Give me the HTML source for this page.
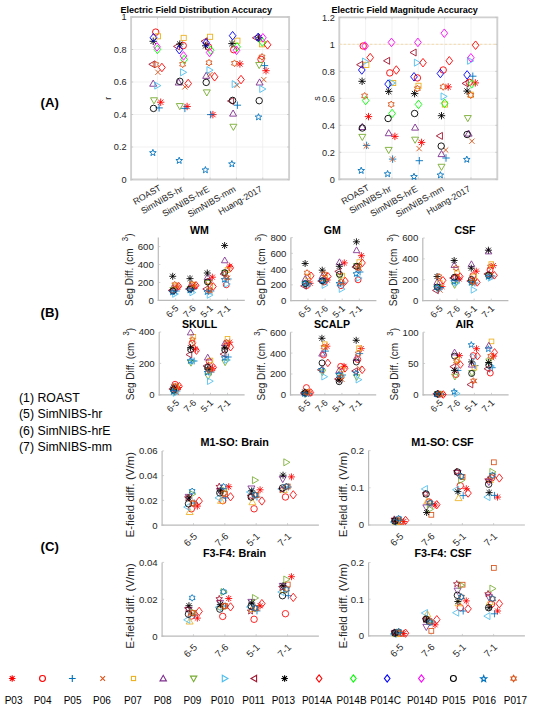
<!DOCTYPE html>
<html><head><meta charset="utf-8"><style>
html,body{margin:0;padding:0;background:#fff;}
svg{display:block;font-family:"Liberation Sans", sans-serif;}
</style></head><body>
<svg width="535" height="710" viewBox="0 0 535 710">
<rect width="535" height="710" fill="#fff"/>
<line x1="157.43" y1="17" x2="157.43" y2="179.5" stroke="#ebebeb" stroke-width="0.7"/>
<line x1="183.77" y1="17" x2="183.77" y2="179.5" stroke="#ebebeb" stroke-width="0.7"/>
<line x1="210.1" y1="17" x2="210.1" y2="179.5" stroke="#ebebeb" stroke-width="0.7"/>
<line x1="236.43" y1="17" x2="236.43" y2="179.5" stroke="#ebebeb" stroke-width="0.7"/>
<line x1="262.77" y1="17" x2="262.77" y2="179.5" stroke="#ebebeb" stroke-width="0.7"/>
<line x1="131.1" y1="179.5" x2="289.1" y2="179.5" stroke="#ebebeb" stroke-width="0.7"/>
<line x1="131.1" y1="147" x2="289.1" y2="147" stroke="#ebebeb" stroke-width="0.7"/>
<line x1="131.1" y1="114.5" x2="289.1" y2="114.5" stroke="#ebebeb" stroke-width="0.7"/>
<line x1="131.1" y1="82" x2="289.1" y2="82" stroke="#ebebeb" stroke-width="0.7"/>
<line x1="131.1" y1="49.5" x2="289.1" y2="49.5" stroke="#ebebeb" stroke-width="0.7"/>
<line x1="131.1" y1="17" x2="289.1" y2="17" stroke="#ebebeb" stroke-width="0.7"/>
<line x1="131.1" y1="17" x2="131.1" y2="180.45" stroke="#d0d0d0" stroke-width="1.9"/>
<line x1="130.15" y1="179.5" x2="289.1" y2="179.5" stroke="#d0d0d0" stroke-width="1.9"/>
<line x1="289.1" y1="17" x2="289.1" y2="180.45" stroke="#d0d0d0" stroke-width="1.9"/>
<line x1="130.15" y1="17" x2="290.05" y2="17" stroke="#d0d0d0" stroke-width="1.9"/>
<line x1="157.43" y1="179.5" x2="157.43" y2="177.5" stroke="#c0c0c0" stroke-width="0.7"/>
<line x1="157.43" y1="17" x2="157.43" y2="19" stroke="#c0c0c0" stroke-width="0.7"/>
<line x1="183.77" y1="179.5" x2="183.77" y2="177.5" stroke="#c0c0c0" stroke-width="0.7"/>
<line x1="183.77" y1="17" x2="183.77" y2="19" stroke="#c0c0c0" stroke-width="0.7"/>
<line x1="210.1" y1="179.5" x2="210.1" y2="177.5" stroke="#c0c0c0" stroke-width="0.7"/>
<line x1="210.1" y1="17" x2="210.1" y2="19" stroke="#c0c0c0" stroke-width="0.7"/>
<line x1="236.43" y1="179.5" x2="236.43" y2="177.5" stroke="#c0c0c0" stroke-width="0.7"/>
<line x1="236.43" y1="17" x2="236.43" y2="19" stroke="#c0c0c0" stroke-width="0.7"/>
<line x1="262.77" y1="179.5" x2="262.77" y2="177.5" stroke="#c0c0c0" stroke-width="0.7"/>
<line x1="262.77" y1="17" x2="262.77" y2="19" stroke="#c0c0c0" stroke-width="0.7"/>
<line x1="131.1" y1="179.5" x2="133.1" y2="179.5" stroke="#c0c0c0" stroke-width="0.7"/>
<line x1="289.1" y1="179.5" x2="287.1" y2="179.5" stroke="#c0c0c0" stroke-width="0.7"/>
<text x="126.6" y="182.81" font-size="9.2" text-anchor="end" font-weight="normal" fill="#262626">0</text>
<line x1="131.1" y1="147" x2="133.1" y2="147" stroke="#c0c0c0" stroke-width="0.7"/>
<line x1="289.1" y1="147" x2="287.1" y2="147" stroke="#c0c0c0" stroke-width="0.7"/>
<text x="126.6" y="150.31" font-size="9.2" text-anchor="end" font-weight="normal" fill="#262626">0.2</text>
<line x1="131.1" y1="114.5" x2="133.1" y2="114.5" stroke="#c0c0c0" stroke-width="0.7"/>
<line x1="289.1" y1="114.5" x2="287.1" y2="114.5" stroke="#c0c0c0" stroke-width="0.7"/>
<text x="126.6" y="117.81" font-size="9.2" text-anchor="end" font-weight="normal" fill="#262626">0.4</text>
<line x1="131.1" y1="82" x2="133.1" y2="82" stroke="#c0c0c0" stroke-width="0.7"/>
<line x1="289.1" y1="82" x2="287.1" y2="82" stroke="#c0c0c0" stroke-width="0.7"/>
<text x="126.6" y="85.31" font-size="9.2" text-anchor="end" font-weight="normal" fill="#262626">0.6</text>
<line x1="131.1" y1="49.5" x2="133.1" y2="49.5" stroke="#c0c0c0" stroke-width="0.7"/>
<line x1="289.1" y1="49.5" x2="287.1" y2="49.5" stroke="#c0c0c0" stroke-width="0.7"/>
<text x="126.6" y="52.81" font-size="9.2" text-anchor="end" font-weight="normal" fill="#262626">0.8</text>
<line x1="131.1" y1="17" x2="133.1" y2="17" stroke="#c0c0c0" stroke-width="0.7"/>
<line x1="289.1" y1="17" x2="287.1" y2="17" stroke="#c0c0c0" stroke-width="0.7"/>
<text x="126.6" y="20.31" font-size="9.2" text-anchor="end" font-weight="normal" fill="#262626">1</text>
<line x1="365.63" y1="17.4" x2="365.63" y2="179.3" stroke="#ebebeb" stroke-width="0.7"/>
<line x1="391.97" y1="17.4" x2="391.97" y2="179.3" stroke="#ebebeb" stroke-width="0.7"/>
<line x1="418.3" y1="17.4" x2="418.3" y2="179.3" stroke="#ebebeb" stroke-width="0.7"/>
<line x1="444.63" y1="17.4" x2="444.63" y2="179.3" stroke="#ebebeb" stroke-width="0.7"/>
<line x1="470.97" y1="17.4" x2="470.97" y2="179.3" stroke="#ebebeb" stroke-width="0.7"/>
<line x1="339.3" y1="179.3" x2="497.3" y2="179.3" stroke="#ebebeb" stroke-width="0.7"/>
<line x1="339.3" y1="152.32" x2="497.3" y2="152.32" stroke="#ebebeb" stroke-width="0.7"/>
<line x1="339.3" y1="125.33" x2="497.3" y2="125.33" stroke="#ebebeb" stroke-width="0.7"/>
<line x1="339.3" y1="98.35" x2="497.3" y2="98.35" stroke="#ebebeb" stroke-width="0.7"/>
<line x1="339.3" y1="71.37" x2="497.3" y2="71.37" stroke="#ebebeb" stroke-width="0.7"/>
<line x1="339.3" y1="44.38" x2="497.3" y2="44.38" stroke="#ebebeb" stroke-width="0.7"/>
<line x1="339.3" y1="17.4" x2="497.3" y2="17.4" stroke="#ebebeb" stroke-width="0.7"/>
<line x1="339.3" y1="17.4" x2="339.3" y2="180.25" stroke="#d0d0d0" stroke-width="1.9"/>
<line x1="338.35" y1="179.3" x2="497.3" y2="179.3" stroke="#d0d0d0" stroke-width="1.9"/>
<line x1="497.3" y1="17.4" x2="497.3" y2="180.25" stroke="#d0d0d0" stroke-width="1.9"/>
<line x1="338.35" y1="17.4" x2="498.25" y2="17.4" stroke="#d0d0d0" stroke-width="1.9"/>
<line x1="365.63" y1="179.3" x2="365.63" y2="177.3" stroke="#c0c0c0" stroke-width="0.7"/>
<line x1="365.63" y1="17.4" x2="365.63" y2="19.4" stroke="#c0c0c0" stroke-width="0.7"/>
<line x1="391.97" y1="179.3" x2="391.97" y2="177.3" stroke="#c0c0c0" stroke-width="0.7"/>
<line x1="391.97" y1="17.4" x2="391.97" y2="19.4" stroke="#c0c0c0" stroke-width="0.7"/>
<line x1="418.3" y1="179.3" x2="418.3" y2="177.3" stroke="#c0c0c0" stroke-width="0.7"/>
<line x1="418.3" y1="17.4" x2="418.3" y2="19.4" stroke="#c0c0c0" stroke-width="0.7"/>
<line x1="444.63" y1="179.3" x2="444.63" y2="177.3" stroke="#c0c0c0" stroke-width="0.7"/>
<line x1="444.63" y1="17.4" x2="444.63" y2="19.4" stroke="#c0c0c0" stroke-width="0.7"/>
<line x1="470.97" y1="179.3" x2="470.97" y2="177.3" stroke="#c0c0c0" stroke-width="0.7"/>
<line x1="470.97" y1="17.4" x2="470.97" y2="19.4" stroke="#c0c0c0" stroke-width="0.7"/>
<line x1="339.3" y1="179.3" x2="341.3" y2="179.3" stroke="#c0c0c0" stroke-width="0.7"/>
<line x1="497.3" y1="179.3" x2="495.3" y2="179.3" stroke="#c0c0c0" stroke-width="0.7"/>
<text x="334.8" y="182.61" font-size="9.2" text-anchor="end" font-weight="normal" fill="#262626">0</text>
<line x1="339.3" y1="152.32" x2="341.3" y2="152.32" stroke="#c0c0c0" stroke-width="0.7"/>
<line x1="497.3" y1="152.32" x2="495.3" y2="152.32" stroke="#c0c0c0" stroke-width="0.7"/>
<text x="334.8" y="155.63" font-size="9.2" text-anchor="end" font-weight="normal" fill="#262626">0.2</text>
<line x1="339.3" y1="125.33" x2="341.3" y2="125.33" stroke="#c0c0c0" stroke-width="0.7"/>
<line x1="497.3" y1="125.33" x2="495.3" y2="125.33" stroke="#c0c0c0" stroke-width="0.7"/>
<text x="334.8" y="128.65" font-size="9.2" text-anchor="end" font-weight="normal" fill="#262626">0.4</text>
<line x1="339.3" y1="98.35" x2="341.3" y2="98.35" stroke="#c0c0c0" stroke-width="0.7"/>
<line x1="497.3" y1="98.35" x2="495.3" y2="98.35" stroke="#c0c0c0" stroke-width="0.7"/>
<text x="334.8" y="101.66" font-size="9.2" text-anchor="end" font-weight="normal" fill="#262626">0.6</text>
<line x1="339.3" y1="71.37" x2="341.3" y2="71.37" stroke="#c0c0c0" stroke-width="0.7"/>
<line x1="497.3" y1="71.37" x2="495.3" y2="71.37" stroke="#c0c0c0" stroke-width="0.7"/>
<text x="334.8" y="74.68" font-size="9.2" text-anchor="end" font-weight="normal" fill="#262626">0.8</text>
<line x1="339.3" y1="44.38" x2="341.3" y2="44.38" stroke="#c0c0c0" stroke-width="0.7"/>
<line x1="497.3" y1="44.38" x2="495.3" y2="44.38" stroke="#c0c0c0" stroke-width="0.7"/>
<text x="334.8" y="47.7" font-size="9.2" text-anchor="end" font-weight="normal" fill="#262626">1</text>
<line x1="339.3" y1="17.4" x2="341.3" y2="17.4" stroke="#c0c0c0" stroke-width="0.7"/>
<line x1="497.3" y1="17.4" x2="495.3" y2="17.4" stroke="#c0c0c0" stroke-width="0.7"/>
<text x="334.8" y="20.71" font-size="9.2" text-anchor="end" font-weight="normal" fill="#262626">1.2</text>
<line x1="339.3" y1="44.38" x2="497.3" y2="44.38" stroke="#f6dfb4" stroke-width="1.1" stroke-dasharray="2.2 2.2"/>
<text x="0" y="0" font-size="8.9" text-anchor="end" font-weight="normal" fill="#262626" transform="translate(161.73,189.7) rotate(-30)">ROAST</text>
<text x="0" y="0" font-size="8.9" text-anchor="end" font-weight="normal" fill="#262626" transform="translate(183.77,190.7) rotate(-30)">SimNIBS-hr</text>
<text x="0" y="0" font-size="8.9" text-anchor="end" font-weight="normal" fill="#262626" transform="translate(210.1,190.7) rotate(-30)">SimNIBS-hrE</text>
<text x="0" y="0" font-size="8.9" text-anchor="end" font-weight="normal" fill="#262626" transform="translate(236.43,190.7) rotate(-30)">SimNIBS-mm</text>
<text x="0" y="0" font-size="8.9" text-anchor="end" font-weight="normal" fill="#262626" transform="translate(262.77,190.7) rotate(-30)">Huang-2017</text>
<text x="0" y="0" font-size="8.9" text-anchor="end" font-weight="normal" fill="#262626" transform="translate(369.93,189.5) rotate(-30)">ROAST</text>
<text x="0" y="0" font-size="8.9" text-anchor="end" font-weight="normal" fill="#262626" transform="translate(391.97,190.5) rotate(-30)">SimNIBS-hr</text>
<text x="0" y="0" font-size="8.9" text-anchor="end" font-weight="normal" fill="#262626" transform="translate(418.3,190.5) rotate(-30)">SimNIBS-hrE</text>
<text x="0" y="0" font-size="8.9" text-anchor="end" font-weight="normal" fill="#262626" transform="translate(444.63,190.5) rotate(-30)">SimNIBS-mm</text>
<text x="0" y="0" font-size="8.9" text-anchor="end" font-weight="normal" fill="#262626" transform="translate(470.97,190.5) rotate(-30)">Huang-2017</text>
<text x="120.4" y="12.6" font-size="9" text-anchor="start" font-weight="bold" fill="#000">Electric Field Distribution Accuracy</text>
<text x="331.6" y="12.6" font-size="9" text-anchor="start" font-weight="bold" fill="#000">Electric Field Magnitude Accuracy</text>
<text x="0" y="0" font-size="9" text-anchor="middle" font-weight="normal" fill="#262626" transform="translate(111.3,98.3) rotate(-90)">r</text>
<text x="0" y="0" font-size="9" text-anchor="middle" font-weight="normal" fill="#262626" transform="translate(320.3,98.5) rotate(-90)">s</text>
<line x1="158.3" y1="237.6" x2="158.3" y2="301" stroke="#bababa" stroke-width="1.2"/>
<line x1="157.7" y1="300.4" x2="244.8" y2="300.4" stroke="#bababa" stroke-width="1.2"/>
<line x1="175.6" y1="300.4" x2="175.6" y2="298.4" stroke="#c0c0c0" stroke-width="0.7"/>
<line x1="192.9" y1="300.4" x2="192.9" y2="298.4" stroke="#c0c0c0" stroke-width="0.7"/>
<line x1="210.2" y1="300.4" x2="210.2" y2="298.4" stroke="#c0c0c0" stroke-width="0.7"/>
<line x1="227.5" y1="300.4" x2="227.5" y2="298.4" stroke="#c0c0c0" stroke-width="0.7"/>
<line x1="158.3" y1="300.4" x2="160.3" y2="300.4" stroke="#c0c0c0" stroke-width="0.7"/>
<text x="153.8" y="303.86" font-size="9.6" text-anchor="end" font-weight="normal" fill="#262626">0</text>
<line x1="158.3" y1="282.46" x2="160.3" y2="282.46" stroke="#c0c0c0" stroke-width="0.7"/>
<text x="153.8" y="285.91" font-size="9.6" text-anchor="end" font-weight="normal" fill="#262626">200</text>
<line x1="158.3" y1="264.51" x2="160.3" y2="264.51" stroke="#c0c0c0" stroke-width="0.7"/>
<text x="153.8" y="267.97" font-size="9.6" text-anchor="end" font-weight="normal" fill="#262626">400</text>
<line x1="158.3" y1="246.57" x2="160.3" y2="246.57" stroke="#c0c0c0" stroke-width="0.7"/>
<text x="153.8" y="250.03" font-size="9.6" text-anchor="end" font-weight="normal" fill="#262626">600</text>
<text x="0" y="0" font-size="9.2" text-anchor="end" font-weight="normal" fill="#262626" transform="translate(179.1,308.9) rotate(-45)">6-5</text>
<text x="0" y="0" font-size="9.2" text-anchor="end" font-weight="normal" fill="#262626" transform="translate(196.4,308.9) rotate(-45)">7-6</text>
<text x="0" y="0" font-size="9.2" text-anchor="end" font-weight="normal" fill="#262626" transform="translate(213.7,308.9) rotate(-45)">5-1</text>
<text x="0" y="0" font-size="9.2" text-anchor="end" font-weight="normal" fill="#262626" transform="translate(231,308.9) rotate(-45)">7-1</text>
<text x="199.4" y="233.9" font-size="10.6" text-anchor="middle" font-weight="bold" fill="#000">WM</text>
<text transform="translate(132.7,269.7) rotate(-90) scale(0.87,1)" font-size="11.5" text-anchor="middle" fill="#262626">Seg Diff. (cm<tspan font-size="9" dx="8.2" dy="-4.6">3</tspan><tspan dy="4.6">)</tspan></text>
<line x1="290.9" y1="237.6" x2="290.9" y2="301.2" stroke="#bababa" stroke-width="1.2"/>
<line x1="290.3" y1="300.6" x2="376.4" y2="300.6" stroke="#bababa" stroke-width="1.2"/>
<line x1="308" y1="300.6" x2="308" y2="298.6" stroke="#c0c0c0" stroke-width="0.7"/>
<line x1="325.1" y1="300.6" x2="325.1" y2="298.6" stroke="#c0c0c0" stroke-width="0.7"/>
<line x1="342.2" y1="300.6" x2="342.2" y2="298.6" stroke="#c0c0c0" stroke-width="0.7"/>
<line x1="359.3" y1="300.6" x2="359.3" y2="298.6" stroke="#c0c0c0" stroke-width="0.7"/>
<line x1="290.9" y1="300.6" x2="292.9" y2="300.6" stroke="#c0c0c0" stroke-width="0.7"/>
<text x="286.4" y="304.06" font-size="9.6" text-anchor="end" font-weight="normal" fill="#262626">0</text>
<line x1="290.9" y1="284.85" x2="292.9" y2="284.85" stroke="#c0c0c0" stroke-width="0.7"/>
<text x="286.4" y="288.31" font-size="9.6" text-anchor="end" font-weight="normal" fill="#262626">200</text>
<line x1="290.9" y1="269.1" x2="292.9" y2="269.1" stroke="#c0c0c0" stroke-width="0.7"/>
<text x="286.4" y="272.56" font-size="9.6" text-anchor="end" font-weight="normal" fill="#262626">400</text>
<line x1="290.9" y1="253.35" x2="292.9" y2="253.35" stroke="#c0c0c0" stroke-width="0.7"/>
<text x="286.4" y="256.81" font-size="9.6" text-anchor="end" font-weight="normal" fill="#262626">600</text>
<line x1="290.9" y1="237.6" x2="292.9" y2="237.6" stroke="#c0c0c0" stroke-width="0.7"/>
<text x="286.4" y="241.06" font-size="9.6" text-anchor="end" font-weight="normal" fill="#262626">800</text>
<text x="0" y="0" font-size="9.2" text-anchor="end" font-weight="normal" fill="#262626" transform="translate(311.5,309.1) rotate(-45)">6-5</text>
<text x="0" y="0" font-size="9.2" text-anchor="end" font-weight="normal" fill="#262626" transform="translate(328.6,309.1) rotate(-45)">7-6</text>
<text x="0" y="0" font-size="9.2" text-anchor="end" font-weight="normal" fill="#262626" transform="translate(345.7,309.1) rotate(-45)">5-1</text>
<text x="0" y="0" font-size="9.2" text-anchor="end" font-weight="normal" fill="#262626" transform="translate(362.8,309.1) rotate(-45)">7-1</text>
<text x="332.2" y="233.8" font-size="10.6" text-anchor="middle" font-weight="bold" fill="#000">GM</text>
<text transform="translate(265.3,269.8) rotate(-90) scale(0.87,1)" font-size="11.5" text-anchor="middle" fill="#262626">Seg Diff. (cm<tspan font-size="9" dx="8.2" dy="-4.6">3</tspan><tspan dy="4.6">)</tspan></text>
<line x1="422.8" y1="238" x2="422.8" y2="301.2" stroke="#bababa" stroke-width="1.2"/>
<line x1="422.2" y1="300.6" x2="508.4" y2="300.6" stroke="#bababa" stroke-width="1.2"/>
<line x1="439.92" y1="300.6" x2="439.92" y2="298.6" stroke="#c0c0c0" stroke-width="0.7"/>
<line x1="457.04" y1="300.6" x2="457.04" y2="298.6" stroke="#c0c0c0" stroke-width="0.7"/>
<line x1="474.16" y1="300.6" x2="474.16" y2="298.6" stroke="#c0c0c0" stroke-width="0.7"/>
<line x1="491.28" y1="300.6" x2="491.28" y2="298.6" stroke="#c0c0c0" stroke-width="0.7"/>
<line x1="422.8" y1="300.6" x2="424.8" y2="300.6" stroke="#c0c0c0" stroke-width="0.7"/>
<text x="418.3" y="304.06" font-size="9.6" text-anchor="end" font-weight="normal" fill="#262626">0</text>
<line x1="422.8" y1="279.73" x2="424.8" y2="279.73" stroke="#c0c0c0" stroke-width="0.7"/>
<text x="418.3" y="283.19" font-size="9.6" text-anchor="end" font-weight="normal" fill="#262626">200</text>
<line x1="422.8" y1="258.87" x2="424.8" y2="258.87" stroke="#c0c0c0" stroke-width="0.7"/>
<text x="418.3" y="262.32" font-size="9.6" text-anchor="end" font-weight="normal" fill="#262626">400</text>
<line x1="422.8" y1="238" x2="424.8" y2="238" stroke="#c0c0c0" stroke-width="0.7"/>
<text x="418.3" y="241.46" font-size="9.6" text-anchor="end" font-weight="normal" fill="#262626">600</text>
<text x="0" y="0" font-size="9.2" text-anchor="end" font-weight="normal" fill="#262626" transform="translate(443.42,309.1) rotate(-45)">6-5</text>
<text x="0" y="0" font-size="9.2" text-anchor="end" font-weight="normal" fill="#262626" transform="translate(460.54,309.1) rotate(-45)">7-6</text>
<text x="0" y="0" font-size="9.2" text-anchor="end" font-weight="normal" fill="#262626" transform="translate(477.66,309.1) rotate(-45)">5-1</text>
<text x="0" y="0" font-size="9.2" text-anchor="end" font-weight="normal" fill="#262626" transform="translate(494.78,309.1) rotate(-45)">7-1</text>
<text x="465" y="233.8" font-size="10.6" text-anchor="middle" font-weight="bold" fill="#000">CSF</text>
<text transform="translate(397.2,270) rotate(-90) scale(0.87,1)" font-size="11.5" text-anchor="middle" fill="#262626">Seg Diff. (cm<tspan font-size="9" dx="8.2" dy="-4.6">3</tspan><tspan dy="4.6">)</tspan></text>
<line x1="159.2" y1="332" x2="159.2" y2="395.4" stroke="#bababa" stroke-width="1.2"/>
<line x1="158.6" y1="394.8" x2="244.6" y2="394.8" stroke="#bababa" stroke-width="1.2"/>
<line x1="176.28" y1="394.8" x2="176.28" y2="392.8" stroke="#c0c0c0" stroke-width="0.7"/>
<line x1="193.36" y1="394.8" x2="193.36" y2="392.8" stroke="#c0c0c0" stroke-width="0.7"/>
<line x1="210.44" y1="394.8" x2="210.44" y2="392.8" stroke="#c0c0c0" stroke-width="0.7"/>
<line x1="227.52" y1="394.8" x2="227.52" y2="392.8" stroke="#c0c0c0" stroke-width="0.7"/>
<line x1="159.2" y1="394.8" x2="161.2" y2="394.8" stroke="#c0c0c0" stroke-width="0.7"/>
<text x="154.7" y="398.26" font-size="9.6" text-anchor="end" font-weight="normal" fill="#262626">0</text>
<line x1="159.2" y1="363.4" x2="161.2" y2="363.4" stroke="#c0c0c0" stroke-width="0.7"/>
<text x="154.7" y="366.86" font-size="9.6" text-anchor="end" font-weight="normal" fill="#262626">200</text>
<line x1="159.2" y1="332" x2="161.2" y2="332" stroke="#c0c0c0" stroke-width="0.7"/>
<text x="154.7" y="335.46" font-size="9.6" text-anchor="end" font-weight="normal" fill="#262626">400</text>
<text x="0" y="0" font-size="9.2" text-anchor="end" font-weight="normal" fill="#262626" transform="translate(179.78,403.3) rotate(-45)">6-5</text>
<text x="0" y="0" font-size="9.2" text-anchor="end" font-weight="normal" fill="#262626" transform="translate(196.86,403.3) rotate(-45)">7-6</text>
<text x="0" y="0" font-size="9.2" text-anchor="end" font-weight="normal" fill="#262626" transform="translate(213.94,403.3) rotate(-45)">5-1</text>
<text x="0" y="0" font-size="9.2" text-anchor="end" font-weight="normal" fill="#262626" transform="translate(231.02,403.3) rotate(-45)">7-1</text>
<text x="199.55" y="327.5" font-size="10.6" text-anchor="middle" font-weight="bold" fill="#000">SKULL</text>
<text transform="translate(133.6,364.1) rotate(-90) scale(0.87,1)" font-size="11.5" text-anchor="middle" fill="#262626">Seg Diff. (cm<tspan font-size="9" dx="8.2" dy="-4.6">3</tspan><tspan dy="4.6">)</tspan></text>
<line x1="290.5" y1="332.2" x2="290.5" y2="395.5" stroke="#bababa" stroke-width="1.2"/>
<line x1="289.9" y1="394.9" x2="376.2" y2="394.9" stroke="#bababa" stroke-width="1.2"/>
<line x1="307.64" y1="394.9" x2="307.64" y2="392.9" stroke="#c0c0c0" stroke-width="0.7"/>
<line x1="324.78" y1="394.9" x2="324.78" y2="392.9" stroke="#c0c0c0" stroke-width="0.7"/>
<line x1="341.92" y1="394.9" x2="341.92" y2="392.9" stroke="#c0c0c0" stroke-width="0.7"/>
<line x1="359.06" y1="394.9" x2="359.06" y2="392.9" stroke="#c0c0c0" stroke-width="0.7"/>
<line x1="290.5" y1="394.9" x2="292.5" y2="394.9" stroke="#c0c0c0" stroke-width="0.7"/>
<text x="286" y="398.36" font-size="9.6" text-anchor="end" font-weight="normal" fill="#262626">0</text>
<line x1="290.5" y1="374" x2="292.5" y2="374" stroke="#c0c0c0" stroke-width="0.7"/>
<text x="286" y="377.46" font-size="9.6" text-anchor="end" font-weight="normal" fill="#262626">200</text>
<line x1="290.5" y1="353.1" x2="292.5" y2="353.1" stroke="#c0c0c0" stroke-width="0.7"/>
<text x="286" y="356.56" font-size="9.6" text-anchor="end" font-weight="normal" fill="#262626">400</text>
<line x1="290.5" y1="332.2" x2="292.5" y2="332.2" stroke="#c0c0c0" stroke-width="0.7"/>
<text x="286" y="335.66" font-size="9.6" text-anchor="end" font-weight="normal" fill="#262626">600</text>
<text x="0" y="0" font-size="9.2" text-anchor="end" font-weight="normal" fill="#262626" transform="translate(311.14,403.4) rotate(-45)">6-5</text>
<text x="0" y="0" font-size="9.2" text-anchor="end" font-weight="normal" fill="#262626" transform="translate(328.28,403.4) rotate(-45)">7-6</text>
<text x="0" y="0" font-size="9.2" text-anchor="end" font-weight="normal" fill="#262626" transform="translate(345.42,403.4) rotate(-45)">5-1</text>
<text x="0" y="0" font-size="9.2" text-anchor="end" font-weight="normal" fill="#262626" transform="translate(362.56,403.4) rotate(-45)">7-1</text>
<text x="332" y="327.6" font-size="10.6" text-anchor="middle" font-weight="bold" fill="#000">SCALP</text>
<text transform="translate(264.9,364.25) rotate(-90) scale(0.87,1)" font-size="11.5" text-anchor="middle" fill="#262626">Seg Diff. (cm<tspan font-size="9" dx="8.2" dy="-4.6">3</tspan><tspan dy="4.6">)</tspan></text>
<line x1="423.1" y1="332.2" x2="423.1" y2="395.4" stroke="#bababa" stroke-width="1.2"/>
<line x1="422.5" y1="394.8" x2="508.6" y2="394.8" stroke="#bababa" stroke-width="1.2"/>
<line x1="440.2" y1="394.8" x2="440.2" y2="392.8" stroke="#c0c0c0" stroke-width="0.7"/>
<line x1="457.3" y1="394.8" x2="457.3" y2="392.8" stroke="#c0c0c0" stroke-width="0.7"/>
<line x1="474.4" y1="394.8" x2="474.4" y2="392.8" stroke="#c0c0c0" stroke-width="0.7"/>
<line x1="491.5" y1="394.8" x2="491.5" y2="392.8" stroke="#c0c0c0" stroke-width="0.7"/>
<line x1="423.1" y1="394.8" x2="425.1" y2="394.8" stroke="#c0c0c0" stroke-width="0.7"/>
<text x="418.6" y="398.26" font-size="9.6" text-anchor="end" font-weight="normal" fill="#262626">0</text>
<line x1="423.1" y1="363.5" x2="425.1" y2="363.5" stroke="#c0c0c0" stroke-width="0.7"/>
<text x="418.6" y="366.96" font-size="9.6" text-anchor="end" font-weight="normal" fill="#262626">50</text>
<line x1="423.1" y1="332.2" x2="425.1" y2="332.2" stroke="#c0c0c0" stroke-width="0.7"/>
<text x="418.6" y="335.66" font-size="9.6" text-anchor="end" font-weight="normal" fill="#262626">100</text>
<text x="0" y="0" font-size="9.2" text-anchor="end" font-weight="normal" fill="#262626" transform="translate(443.7,403.3) rotate(-45)">6-5</text>
<text x="0" y="0" font-size="9.2" text-anchor="end" font-weight="normal" fill="#262626" transform="translate(460.8,403.3) rotate(-45)">7-6</text>
<text x="0" y="0" font-size="9.2" text-anchor="end" font-weight="normal" fill="#262626" transform="translate(477.9,403.3) rotate(-45)">5-1</text>
<text x="0" y="0" font-size="9.2" text-anchor="end" font-weight="normal" fill="#262626" transform="translate(495,403.3) rotate(-45)">7-1</text>
<text x="464.6" y="327.6" font-size="10.6" text-anchor="middle" font-weight="bold" fill="#000">AIR</text>
<text transform="translate(397.5,364.2) rotate(-90) scale(0.87,1)" font-size="11.5" text-anchor="middle" fill="#262626">Seg Diff. (cm<tspan font-size="9" dx="8.2" dy="-4.6">3</tspan><tspan dy="4.6">)</tspan></text>
<line x1="162.1" y1="450.9" x2="162.1" y2="525.7" stroke="#bababa" stroke-width="1.2"/>
<line x1="161.5" y1="525.1" x2="318.9" y2="525.1" stroke="#bababa" stroke-width="1.2"/>
<line x1="193.46" y1="525.1" x2="193.46" y2="523.1" stroke="#c0c0c0" stroke-width="0.7"/>
<line x1="224.82" y1="525.1" x2="224.82" y2="523.1" stroke="#c0c0c0" stroke-width="0.7"/>
<line x1="256.18" y1="525.1" x2="256.18" y2="523.1" stroke="#c0c0c0" stroke-width="0.7"/>
<line x1="287.54" y1="525.1" x2="287.54" y2="523.1" stroke="#c0c0c0" stroke-width="0.7"/>
<line x1="162.1" y1="525.1" x2="164.1" y2="525.1" stroke="#c0c0c0" stroke-width="0.7"/>
<text x="157.6" y="528.56" font-size="9.6" text-anchor="end" font-weight="normal" fill="#262626">0</text>
<line x1="162.1" y1="500.37" x2="164.1" y2="500.37" stroke="#c0c0c0" stroke-width="0.7"/>
<text x="157.6" y="503.82" font-size="9.6" text-anchor="end" font-weight="normal" fill="#262626">0.02</text>
<line x1="162.1" y1="475.63" x2="164.1" y2="475.63" stroke="#c0c0c0" stroke-width="0.7"/>
<text x="157.6" y="479.09" font-size="9.6" text-anchor="end" font-weight="normal" fill="#262626">0.04</text>
<line x1="162.1" y1="450.9" x2="164.1" y2="450.9" stroke="#c0c0c0" stroke-width="0.7"/>
<text x="157.6" y="454.36" font-size="9.6" text-anchor="end" font-weight="normal" fill="#262626">0.06</text>
<text x="0" y="0" font-size="9.8" text-anchor="end" font-weight="normal" fill="#262626" transform="translate(197.76,536.9) rotate(-45)">6-5</text>
<text x="0" y="0" font-size="9.8" text-anchor="end" font-weight="normal" fill="#262626" transform="translate(229.12,536.9) rotate(-45)">7-6</text>
<text x="0" y="0" font-size="9.8" text-anchor="end" font-weight="normal" fill="#262626" transform="translate(260.48,536.9) rotate(-45)">5-1</text>
<text x="0" y="0" font-size="9.8" text-anchor="end" font-weight="normal" fill="#262626" transform="translate(291.84,536.9) rotate(-45)">7-1</text>
<text x="234.6" y="446.2" font-size="10.8" text-anchor="middle" font-weight="bold" fill="#000">M1-SO: Brain</text>
<text x="0" y="0" font-size="11.5" text-anchor="middle" font-weight="normal" fill="#262626" transform="translate(134.1,494.7) rotate(-90)">E-field diff. (V/m)</text>
<line x1="368.6" y1="450.6" x2="368.6" y2="525.6" stroke="#bababa" stroke-width="1.2"/>
<line x1="368" y1="525" x2="524.9" y2="525" stroke="#bababa" stroke-width="1.2"/>
<line x1="399.86" y1="525" x2="399.86" y2="523" stroke="#c0c0c0" stroke-width="0.7"/>
<line x1="431.12" y1="525" x2="431.12" y2="523" stroke="#c0c0c0" stroke-width="0.7"/>
<line x1="462.38" y1="525" x2="462.38" y2="523" stroke="#c0c0c0" stroke-width="0.7"/>
<line x1="493.64" y1="525" x2="493.64" y2="523" stroke="#c0c0c0" stroke-width="0.7"/>
<line x1="368.6" y1="525" x2="370.6" y2="525" stroke="#c0c0c0" stroke-width="0.7"/>
<text x="364.1" y="528.46" font-size="9.6" text-anchor="end" font-weight="normal" fill="#262626">0</text>
<line x1="368.6" y1="487.8" x2="370.6" y2="487.8" stroke="#c0c0c0" stroke-width="0.7"/>
<text x="364.1" y="491.26" font-size="9.6" text-anchor="end" font-weight="normal" fill="#262626">0.1</text>
<line x1="368.6" y1="450.6" x2="370.6" y2="450.6" stroke="#c0c0c0" stroke-width="0.7"/>
<text x="364.1" y="454.06" font-size="9.6" text-anchor="end" font-weight="normal" fill="#262626">0.2</text>
<text x="0" y="0" font-size="9.8" text-anchor="end" font-weight="normal" fill="#262626" transform="translate(404.16,536.8) rotate(-45)">6-5</text>
<text x="0" y="0" font-size="9.8" text-anchor="end" font-weight="normal" fill="#262626" transform="translate(435.42,536.8) rotate(-45)">7-6</text>
<text x="0" y="0" font-size="9.8" text-anchor="end" font-weight="normal" fill="#262626" transform="translate(466.68,536.8) rotate(-45)">5-1</text>
<text x="0" y="0" font-size="9.8" text-anchor="end" font-weight="normal" fill="#262626" transform="translate(497.94,536.8) rotate(-45)">7-1</text>
<text x="442.5" y="446.3" font-size="10.8" text-anchor="middle" font-weight="bold" fill="#000">M1-SO: CSF</text>
<text x="0" y="0" font-size="11.5" text-anchor="middle" font-weight="normal" fill="#262626" transform="translate(347,494.5) rotate(-90)">E-field diff. (V/m)</text>
<line x1="162.1" y1="562.4" x2="162.1" y2="636.8" stroke="#bababa" stroke-width="1.2"/>
<line x1="161.5" y1="636.2" x2="318.9" y2="636.2" stroke="#bababa" stroke-width="1.2"/>
<line x1="193.46" y1="636.2" x2="193.46" y2="634.2" stroke="#c0c0c0" stroke-width="0.7"/>
<line x1="224.82" y1="636.2" x2="224.82" y2="634.2" stroke="#c0c0c0" stroke-width="0.7"/>
<line x1="256.18" y1="636.2" x2="256.18" y2="634.2" stroke="#c0c0c0" stroke-width="0.7"/>
<line x1="287.54" y1="636.2" x2="287.54" y2="634.2" stroke="#c0c0c0" stroke-width="0.7"/>
<line x1="162.1" y1="636.2" x2="164.1" y2="636.2" stroke="#c0c0c0" stroke-width="0.7"/>
<text x="157.6" y="639.66" font-size="9.6" text-anchor="end" font-weight="normal" fill="#262626">0</text>
<line x1="162.1" y1="599.3" x2="164.1" y2="599.3" stroke="#c0c0c0" stroke-width="0.7"/>
<text x="157.6" y="602.76" font-size="9.6" text-anchor="end" font-weight="normal" fill="#262626">0.02</text>
<line x1="162.1" y1="562.4" x2="164.1" y2="562.4" stroke="#c0c0c0" stroke-width="0.7"/>
<text x="157.6" y="565.86" font-size="9.6" text-anchor="end" font-weight="normal" fill="#262626">0.04</text>
<text x="0" y="0" font-size="9.8" text-anchor="end" font-weight="normal" fill="#262626" transform="translate(197.76,648) rotate(-45)">6-5</text>
<text x="0" y="0" font-size="9.8" text-anchor="end" font-weight="normal" fill="#262626" transform="translate(229.12,648) rotate(-45)">7-6</text>
<text x="0" y="0" font-size="9.8" text-anchor="end" font-weight="normal" fill="#262626" transform="translate(260.48,648) rotate(-45)">5-1</text>
<text x="0" y="0" font-size="9.8" text-anchor="end" font-weight="normal" fill="#262626" transform="translate(291.84,648) rotate(-45)">7-1</text>
<text x="234.5" y="557" font-size="10.8" text-anchor="middle" font-weight="bold" fill="#000">F3-F4: Brain</text>
<text x="0" y="0" font-size="11.5" text-anchor="middle" font-weight="normal" fill="#262626" transform="translate(134.1,606) rotate(-90)">E-field diff. (V/m)</text>
<line x1="368.6" y1="562.5" x2="368.6" y2="636.5" stroke="#bababa" stroke-width="1.2"/>
<line x1="368" y1="635.9" x2="524.9" y2="635.9" stroke="#bababa" stroke-width="1.2"/>
<line x1="399.86" y1="635.9" x2="399.86" y2="633.9" stroke="#c0c0c0" stroke-width="0.7"/>
<line x1="431.12" y1="635.9" x2="431.12" y2="633.9" stroke="#c0c0c0" stroke-width="0.7"/>
<line x1="462.38" y1="635.9" x2="462.38" y2="633.9" stroke="#c0c0c0" stroke-width="0.7"/>
<line x1="493.64" y1="635.9" x2="493.64" y2="633.9" stroke="#c0c0c0" stroke-width="0.7"/>
<line x1="368.6" y1="635.9" x2="370.6" y2="635.9" stroke="#c0c0c0" stroke-width="0.7"/>
<text x="364.1" y="639.36" font-size="9.6" text-anchor="end" font-weight="normal" fill="#262626">0</text>
<line x1="368.6" y1="599.2" x2="370.6" y2="599.2" stroke="#c0c0c0" stroke-width="0.7"/>
<text x="364.1" y="602.66" font-size="9.6" text-anchor="end" font-weight="normal" fill="#262626">0.1</text>
<line x1="368.6" y1="562.5" x2="370.6" y2="562.5" stroke="#c0c0c0" stroke-width="0.7"/>
<text x="364.1" y="565.96" font-size="9.6" text-anchor="end" font-weight="normal" fill="#262626">0.2</text>
<text x="0" y="0" font-size="9.8" text-anchor="end" font-weight="normal" fill="#262626" transform="translate(404.16,647.7) rotate(-45)">6-5</text>
<text x="0" y="0" font-size="9.8" text-anchor="end" font-weight="normal" fill="#262626" transform="translate(435.42,647.7) rotate(-45)">7-6</text>
<text x="0" y="0" font-size="9.8" text-anchor="end" font-weight="normal" fill="#262626" transform="translate(466.68,647.7) rotate(-45)">5-1</text>
<text x="0" y="0" font-size="9.8" text-anchor="end" font-weight="normal" fill="#262626" transform="translate(497.94,647.7) rotate(-45)">7-1</text>
<text x="443" y="557.2" font-size="10.8" text-anchor="middle" font-weight="bold" fill="#000">F3-F4: CSF</text>
<text x="0" y="0" font-size="11.5" text-anchor="middle" font-weight="normal" fill="#262626" transform="translate(347,605.9) rotate(-90)">E-field diff. (V/m)</text>
<text x="40.6" y="106.8" font-size="13.2" text-anchor="start" font-weight="bold" fill="#000">(A)</text>
<text x="40.6" y="316.9" font-size="13.2" text-anchor="start" font-weight="bold" fill="#000">(B)</text>
<text x="40.6" y="551.4" font-size="13.2" text-anchor="start" font-weight="bold" fill="#000">(C)</text>
<text x="19" y="401.7" font-size="12.3" text-anchor="start" font-weight="normal" fill="#000">(1) ROAST</text>
<text x="19" y="418.25" font-size="12.3" text-anchor="start" font-weight="normal" fill="#000">(5) SimNIBS-hr</text>
<text x="19" y="434.8" font-size="12.3" text-anchor="start" font-weight="normal" fill="#000">(6) SimNIBS-hrE</text>
<text x="19" y="451.35" font-size="12.3" text-anchor="start" font-weight="normal" fill="#000">(7) SimNIBS-mm</text>
<text x="13.6" y="704.2" font-size="10" text-anchor="middle" font-weight="normal" fill="#000">P03</text>
<text x="42.6" y="704.2" font-size="10" text-anchor="middle" font-weight="normal" fill="#000">P04</text>
<text x="72.6" y="704.2" font-size="10" text-anchor="middle" font-weight="normal" fill="#000">P05</text>
<text x="101.9" y="704.2" font-size="10" text-anchor="middle" font-weight="normal" fill="#000">P06</text>
<text x="133" y="704.2" font-size="10" text-anchor="middle" font-weight="normal" fill="#000">P07</text>
<text x="162.6" y="704.2" font-size="10" text-anchor="middle" font-weight="normal" fill="#000">P08</text>
<text x="192.5" y="704.2" font-size="10" text-anchor="middle" font-weight="normal" fill="#000">P09</text>
<text x="222.4" y="704.2" font-size="10" text-anchor="middle" font-weight="normal" fill="#000">P010</text>
<text x="253.6" y="704.2" font-size="10" text-anchor="middle" font-weight="normal" fill="#000">P011</text>
<text x="283.4" y="704.2" font-size="10" text-anchor="middle" font-weight="normal" fill="#000">P013</text>
<text x="316.9" y="704.2" font-size="10" text-anchor="middle" font-weight="normal" fill="#000">P014A</text>
<text x="351.6" y="704.2" font-size="10" text-anchor="middle" font-weight="normal" fill="#000">P014B</text>
<text x="385.6" y="704.2" font-size="10" text-anchor="middle" font-weight="normal" fill="#000">P014C</text>
<text x="422.2" y="704.2" font-size="10" text-anchor="middle" font-weight="normal" fill="#000">P014D</text>
<text x="454" y="704.2" font-size="10" text-anchor="middle" font-weight="normal" fill="#000">P015</text>
<text x="484.3" y="704.2" font-size="10" text-anchor="middle" font-weight="normal" fill="#000">P016</text>
<text x="515.5" y="704.2" font-size="10" text-anchor="middle" font-weight="normal" fill="#000">P017</text>
<path d="M157 102.2H164.4M160.7 98.5V105.9M158.04 99.54L163.36 104.86M158.04 104.86L163.36 99.54" fill="none" stroke="#ff0000" stroke-width="0.9"/>
<circle cx="155.7" cy="32.1" r="3.23" fill="none" stroke="#ff0000" stroke-width="0.9"/>
<path d="M155.4 107.9H162.8M159.1 104.2V111.6" fill="none" stroke="#0072BD" stroke-width="0.9"/>
<path d="M155.28 69.67L160.53 74.92M155.28 74.92L160.53 69.67" fill="none" stroke="#D95319" stroke-width="0.9"/>
<rect x="155.34" y="33.74" width="5.12" height="5.12" fill="none" stroke="#EDB120" stroke-width="0.9"/>
<polygon points="153.2,80.1 156.7,86.22 149.7,86.22" fill="none" stroke="#7E2F8E" stroke-width="0.9"/>
<polygon points="154,103.9 157.5,97.78 150.5,97.78" fill="none" stroke="#77AC30" stroke-width="0.9"/>
<polygon points="160.9,85.6 154.78,89.1 154.78,82.1" fill="none" stroke="#4DBEEE" stroke-width="0.9"/>
<polygon points="148.8,64.3 154.93,67.8 154.93,60.8" fill="none" stroke="#A2142F" stroke-width="0.9"/>
<path d="M149.5 41.3H156.9M153.2 37.6V45M150.54 38.64L155.86 43.96M150.54 43.96L155.86 38.64" fill="none" stroke="#000000" stroke-width="0.9"/>
<polygon points="161.9,63.24 165.23,67.5 161.9,71.75 158.57,67.5" fill="none" stroke="#ff0000" stroke-width="0.9"/>
<polygon points="157.4,45.14 160.73,49.4 157.4,53.66 154.07,49.4" fill="none" stroke="#00ff00" stroke-width="0.9"/>
<polygon points="153.5,33.45 156.83,37.7 153.5,41.96 150.17,37.7" fill="none" stroke="#0000ff" stroke-width="0.9"/>
<polygon points="157,42.64 160.33,46.9 157,51.16 153.67,46.9" fill="none" stroke="#ff00ff" stroke-width="0.9"/>
<circle cx="153.5" cy="108.4" r="3.23" fill="none" stroke="#000000" stroke-width="0.9"/>
<polygon points="152.9,149.37 153.77,151.63 156.2,151.76 154.31,153.29 154.94,155.63 152.9,154.32 150.86,155.63 151.49,153.29 149.6,151.76 152.03,151.63" fill="none" stroke="#0072BD" stroke-width="0.9"/>
<polygon points="155.7,61.1 156.72,62.73 158.64,62.8 157.74,64.5 158.64,66.2 156.72,66.27 155.7,67.9 154.68,66.27 152.76,66.2 153.66,64.5 152.76,62.8 154.68,62.73" fill="none" stroke="#D95319" stroke-width="0.9"/>
<path d="M183.4 106.5H190.8M187.1 102.8V110.2M184.44 103.84L189.76 109.16M184.44 109.16L189.76 103.84" fill="none" stroke="#ff0000" stroke-width="0.9"/>
<circle cx="183.2" cy="45.6" r="3.23" fill="none" stroke="#ff0000" stroke-width="0.9"/>
<path d="M181.2 108.4H188.6M184.9 104.7V112.1" fill="none" stroke="#0072BD" stroke-width="0.9"/>
<path d="M182.28 84.28L187.53 89.53M182.28 89.53L187.53 84.28" fill="none" stroke="#D95319" stroke-width="0.9"/>
<rect x="181.14" y="35.34" width="5.12" height="5.12" fill="none" stroke="#EDB120" stroke-width="0.9"/>
<polygon points="178.7,78.9 182.2,85.03 175.2,85.03" fill="none" stroke="#7E2F8E" stroke-width="0.9"/>
<polygon points="179.8,109.7 183.3,103.58 176.3,103.58" fill="none" stroke="#77AC30" stroke-width="0.9"/>
<polygon points="186.7,72.3 180.57,75.8 180.57,68.8" fill="none" stroke="#4DBEEE" stroke-width="0.9"/>
<polygon points="173.5,46.4 179.62,49.9 179.62,42.9" fill="none" stroke="#A2142F" stroke-width="0.9"/>
<path d="M176.1 44.1H183.5M179.8 40.4V47.8M177.14 41.44L182.46 46.76M177.14 46.76L182.46 41.44" fill="none" stroke="#000000" stroke-width="0.9"/>
<polygon points="188.2,79.25 191.53,83.5 188.2,87.75 184.87,83.5" fill="none" stroke="#ff0000" stroke-width="0.9"/>
<polygon points="184.1,55.24 187.43,59.5 184.1,63.76 180.77,59.5" fill="none" stroke="#00ff00" stroke-width="0.9"/>
<polygon points="179.3,45.45 182.63,49.7 179.3,53.96 175.97,49.7" fill="none" stroke="#0000ff" stroke-width="0.9"/>
<polygon points="183.5,51.64 186.83,55.9 183.5,60.16 180.17,55.9" fill="none" stroke="#ff00ff" stroke-width="0.9"/>
<circle cx="179.8" cy="81.3" r="3.23" fill="none" stroke="#000000" stroke-width="0.9"/>
<polygon points="179.2,157.17 180.07,159.43 182.5,159.56 180.61,161.09 181.24,163.43 179.2,162.12 177.16,163.43 177.79,161.09 175.9,159.56 178.33,159.43" fill="none" stroke="#0072BD" stroke-width="0.9"/>
<polygon points="182.6,60.9 183.62,62.53 185.54,62.6 184.64,64.3 185.54,66 183.62,66.07 182.6,67.7 181.58,66.07 179.66,66 180.56,64.3 179.66,62.6 181.58,62.53" fill="none" stroke="#D95319" stroke-width="0.9"/>
<path d="M209.2 114.6H216.6M212.9 110.9V118.3M210.24 111.94L215.56 117.26M210.24 117.26L215.56 111.94" fill="none" stroke="#ff0000" stroke-width="0.9"/>
<circle cx="208.5" cy="47" r="3.23" fill="none" stroke="#ff0000" stroke-width="0.9"/>
<path d="M207 114.6H214.4M210.7 110.9V118.3" fill="none" stroke="#0072BD" stroke-width="0.9"/>
<path d="M207.38 71.97L212.62 77.22M207.38 77.22L212.62 71.97" fill="none" stroke="#D95319" stroke-width="0.9"/>
<rect x="207.54" y="34.24" width="5.12" height="5.12" fill="none" stroke="#EDB120" stroke-width="0.9"/>
<polygon points="206.2,72.2 209.7,78.33 202.7,78.33" fill="none" stroke="#7E2F8E" stroke-width="0.9"/>
<polygon points="206.8,96 210.3,89.88 203.3,89.88" fill="none" stroke="#77AC30" stroke-width="0.9"/>
<polygon points="213.1,70.1 206.97,73.6 206.97,66.6" fill="none" stroke="#4DBEEE" stroke-width="0.9"/>
<polygon points="201,41.3 207.12,44.8 207.12,37.8" fill="none" stroke="#A2142F" stroke-width="0.9"/>
<path d="M202 45.8H209.4M205.7 42.1V49.5M203.04 43.14L208.36 48.46M203.04 48.46L208.36 43.14" fill="none" stroke="#000000" stroke-width="0.9"/>
<polygon points="214.6,72.55 217.93,76.8 214.6,81.05 211.27,76.8" fill="none" stroke="#ff0000" stroke-width="0.9"/>
<polygon points="210.7,46.04 214.03,50.3 210.7,54.55 207.37,50.3" fill="none" stroke="#00ff00" stroke-width="0.9"/>
<polygon points="206.2,38.74 209.53,43 206.2,47.26 202.87,43" fill="none" stroke="#0000ff" stroke-width="0.9"/>
<polygon points="209.6,48.24 212.93,52.5 209.6,56.76 206.27,52.5" fill="none" stroke="#ff00ff" stroke-width="0.9"/>
<circle cx="206.2" cy="82.4" r="3.23" fill="none" stroke="#000000" stroke-width="0.9"/>
<polygon points="205.4,166.56 206.27,168.83 208.7,168.96 206.81,170.49 207.44,172.83 205.4,171.52 203.36,172.83 203.99,170.49 202.1,168.96 204.53,168.83" fill="none" stroke="#0072BD" stroke-width="0.9"/>
<polygon points="209,59.3 210.02,60.93 211.94,61 211.04,62.7 211.94,64.4 210.02,64.47 209,66.1 207.98,64.47 206.06,64.4 206.96,62.7 206.06,61 207.98,60.93" fill="none" stroke="#D95319" stroke-width="0.9"/>
<path d="M236.2 63.9H243.6M239.9 60.2V67.6M237.24 61.24L242.56 66.56M237.24 66.56L242.56 61.24" fill="none" stroke="#ff0000" stroke-width="0.9"/>
<circle cx="233.7" cy="49.7" r="3.23" fill="none" stroke="#ff0000" stroke-width="0.9"/>
<path d="M233.7 105.2H241.1M237.4 101.5V108.9" fill="none" stroke="#0072BD" stroke-width="0.9"/>
<path d="M234.47 82.58L239.72 87.83M234.47 87.83L239.72 82.58" fill="none" stroke="#D95319" stroke-width="0.9"/>
<rect x="234.84" y="38.14" width="5.12" height="5.12" fill="none" stroke="#EDB120" stroke-width="0.9"/>
<polygon points="233.1,110 236.6,116.12 229.6,116.12" fill="none" stroke="#7E2F8E" stroke-width="0.9"/>
<polygon points="233.4,130.4 236.9,124.28 229.9,124.28" fill="none" stroke="#77AC30" stroke-width="0.9"/>
<polygon points="238.3,84.1 232.18,87.6 232.18,80.6" fill="none" stroke="#4DBEEE" stroke-width="0.9"/>
<polygon points="227.5,101 233.62,104.5 233.62,97.5" fill="none" stroke="#A2142F" stroke-width="0.9"/>
<path d="M228.3 43.6H235.7M232 39.9V47.3M229.34 40.94L234.66 46.26M229.34 46.26L234.66 40.94" fill="none" stroke="#000000" stroke-width="0.9"/>
<polygon points="241,75.34 244.33,79.6 241,83.85 237.67,79.6" fill="none" stroke="#ff0000" stroke-width="0.9"/>
<polygon points="237.1,42.64 240.43,46.9 237.1,51.16 233.77,46.9" fill="none" stroke="#00ff00" stroke-width="0.9"/>
<polygon points="232.6,31.45 235.93,35.7 232.6,39.96 229.27,35.7" fill="none" stroke="#0000ff" stroke-width="0.9"/>
<polygon points="236.5,46.04 239.83,50.3 236.5,54.55 233.17,50.3" fill="none" stroke="#ff00ff" stroke-width="0.9"/>
<circle cx="232.6" cy="100.4" r="3.23" fill="none" stroke="#000000" stroke-width="0.9"/>
<polygon points="231.9,160.56 232.77,162.83 235.2,162.96 233.31,164.49 233.94,166.83 231.9,165.52 229.86,166.83 230.49,164.49 228.6,162.96 231.03,162.83" fill="none" stroke="#0072BD" stroke-width="0.9"/>
<polygon points="234.5,59.9 235.52,61.53 237.44,61.6 236.54,63.3 237.44,65 235.52,65.07 234.5,66.7 233.48,65.07 231.56,65 232.46,63.3 231.56,61.6 233.48,61.53" fill="none" stroke="#D95319" stroke-width="0.9"/>
<path d="M262.3 70.7H269.7M266 67V74.4M263.34 68.04L268.66 73.36M263.34 73.36L268.66 68.04" fill="none" stroke="#ff0000" stroke-width="0.9"/>
<circle cx="261" cy="59.3" r="3.23" fill="none" stroke="#ff0000" stroke-width="0.9"/>
<path d="M260.8 65.6H268.2M264.5 61.9V69.3" fill="none" stroke="#0072BD" stroke-width="0.9"/>
<path d="M261.18 76.97L266.43 82.22M261.18 82.22L266.43 76.97" fill="none" stroke="#D95319" stroke-width="0.9"/>
<rect x="259.44" y="41.74" width="5.12" height="5.12" fill="none" stroke="#EDB120" stroke-width="0.9"/>
<polygon points="259.6,78.9 263.1,85.03 256.1,85.03" fill="none" stroke="#7E2F8E" stroke-width="0.9"/>
<polygon points="259.2,68.6 262.7,62.47 255.7,62.47" fill="none" stroke="#77AC30" stroke-width="0.9"/>
<polygon points="265.9,89 259.77,92.5 259.77,85.5" fill="none" stroke="#4DBEEE" stroke-width="0.9"/>
<polygon points="252.4,37.8 258.52,41.3 258.52,34.3" fill="none" stroke="#A2142F" stroke-width="0.9"/>
<path d="M255.5 37.8H262.9M259.2 34.1V41.5M256.54 35.14L261.86 40.46M256.54 40.46L261.86 35.14" fill="none" stroke="#000000" stroke-width="0.9"/>
<polygon points="267.6,40.54 270.93,44.8 267.6,49.05 264.27,44.8" fill="none" stroke="#ff0000" stroke-width="0.9"/>
<polygon points="262.4,37.74 265.73,42 262.4,46.26 259.07,42" fill="none" stroke="#00ff00" stroke-width="0.9"/>
<polygon points="258.2,33.04 261.53,37.3 258.2,41.55 254.87,37.3" fill="none" stroke="#0000ff" stroke-width="0.9"/>
<polygon points="262.9,33.54 266.23,37.8 262.9,42.05 259.57,37.8" fill="none" stroke="#ff00ff" stroke-width="0.9"/>
<circle cx="259.2" cy="100.7" r="3.23" fill="none" stroke="#000000" stroke-width="0.9"/>
<polygon points="258.5,113.66 259.37,115.93 261.8,116.06 259.91,117.59 260.54,119.93 258.5,118.61 256.46,119.93 257.09,117.59 255.2,116.06 257.63,115.93" fill="none" stroke="#0072BD" stroke-width="0.9"/>
<polygon points="262,53.5 263.02,55.13 264.94,55.2 264.04,56.9 264.94,58.6 263.02,58.67 262,60.3 260.98,58.67 259.06,58.6 259.96,56.9 259.06,55.2 260.98,55.13" fill="none" stroke="#D95319" stroke-width="0.9"/>
<path d="M364.8 116.6H372.2M368.5 112.9V120.3M365.84 113.94L371.16 119.26M365.84 119.26L371.16 113.94" fill="none" stroke="#ff0000" stroke-width="0.9"/>
<circle cx="363.2" cy="46" r="3.23" fill="none" stroke="#ff0000" stroke-width="0.9"/>
<path d="M362.9 145.4H370.3M366.6 141.7V149.1" fill="none" stroke="#0072BD" stroke-width="0.9"/>
<path d="M363.68 143.38L368.93 148.62M363.68 148.62L368.93 143.38" fill="none" stroke="#D95319" stroke-width="0.9"/>
<rect x="363.74" y="62.34" width="5.12" height="5.12" fill="none" stroke="#EDB120" stroke-width="0.9"/>
<polygon points="362.3,123.4 365.8,129.53 358.8,129.53" fill="none" stroke="#7E2F8E" stroke-width="0.9"/>
<polygon points="362.3,140.5 365.8,134.38 358.8,134.38" fill="none" stroke="#77AC30" stroke-width="0.9"/>
<polygon points="368.6,61.5 362.48,65 362.48,58" fill="none" stroke="#4DBEEE" stroke-width="0.9"/>
<polygon points="356.6,64.7 362.73,68.2 362.73,61.2" fill="none" stroke="#A2142F" stroke-width="0.9"/>
<path d="M358.4 81.3H365.8M362.1 77.6V85M359.44 78.64L364.76 83.96M359.44 83.96L364.76 78.64" fill="none" stroke="#000000" stroke-width="0.9"/>
<polygon points="370.2,53.34 373.53,57.6 370.2,61.86 366.87,57.6" fill="none" stroke="#ff0000" stroke-width="0.9"/>
<polygon points="365.7,96.25 369.03,100.5 365.7,104.75 362.37,100.5" fill="none" stroke="#00ff00" stroke-width="0.9"/>
<polygon points="361.8,65.75 365.13,70 361.8,74.25 358.47,70" fill="none" stroke="#0000ff" stroke-width="0.9"/>
<polygon points="365.1,41.74 368.43,46 365.1,50.26 361.77,46" fill="none" stroke="#ff00ff" stroke-width="0.9"/>
<circle cx="362.3" cy="128" r="3.23" fill="none" stroke="#000000" stroke-width="0.9"/>
<polygon points="361.2,167.17 362.07,169.43 364.5,169.56 362.61,171.09 363.24,173.43 361.2,172.12 359.16,173.43 359.79,171.09 357.9,169.56 360.33,169.43" fill="none" stroke="#0072BD" stroke-width="0.9"/>
<polygon points="364.6,92.5 365.62,94.13 367.54,94.2 366.64,95.9 367.54,97.6 365.62,97.67 364.6,99.3 363.58,97.67 361.66,97.6 362.56,95.9 361.66,94.2 363.58,94.13" fill="none" stroke="#D95319" stroke-width="0.9"/>
<path d="M391.2 136.4H398.6M394.9 132.7V140.1M392.24 133.74L397.56 139.06M392.24 139.06L397.56 133.74" fill="none" stroke="#ff0000" stroke-width="0.9"/>
<circle cx="389.8" cy="72.9" r="3.23" fill="none" stroke="#ff0000" stroke-width="0.9"/>
<path d="M388.9 159.1H396.3M392.6 155.4V162.8" fill="none" stroke="#0072BD" stroke-width="0.9"/>
<path d="M389.98 156.47L395.23 161.72M389.98 161.72L395.23 156.47" fill="none" stroke="#D95319" stroke-width="0.9"/>
<rect x="390.64" y="80.44" width="5.12" height="5.12" fill="none" stroke="#EDB120" stroke-width="0.9"/>
<polygon points="388.7,129.6 392.2,135.72 385.2,135.72" fill="none" stroke="#7E2F8E" stroke-width="0.9"/>
<polygon points="388.7,153.5 392.2,147.38 385.2,147.38" fill="none" stroke="#77AC30" stroke-width="0.9"/>
<polygon points="395.6,83 389.48,86.5 389.48,79.5" fill="none" stroke="#4DBEEE" stroke-width="0.9"/>
<polygon points="383.5,60.8 389.62,64.3 389.62,57.3" fill="none" stroke="#A2142F" stroke-width="0.9"/>
<path d="M385 91.4H392.4M388.7 87.7V95.1M386.04 88.74L391.36 94.06M386.04 94.06L391.36 88.74" fill="none" stroke="#000000" stroke-width="0.9"/>
<polygon points="396.3,65.75 399.63,70 396.3,74.25 392.97,70" fill="none" stroke="#ff0000" stroke-width="0.9"/>
<polygon points="392.1,109.25 395.43,113.5 392.1,117.75 388.77,113.5" fill="none" stroke="#00ff00" stroke-width="0.9"/>
<polygon points="388.1,79.84 391.43,84.1 388.1,88.35 384.77,84.1" fill="none" stroke="#0000ff" stroke-width="0.9"/>
<polygon points="391.5,38.14 394.83,42.4 391.5,46.66 388.17,42.4" fill="none" stroke="#ff00ff" stroke-width="0.9"/>
<circle cx="388.1" cy="118.5" r="3.23" fill="none" stroke="#000000" stroke-width="0.9"/>
<polygon points="387.6,170.47 388.47,172.73 390.9,172.86 389.01,174.39 389.64,176.73 387.6,175.42 385.56,176.73 386.19,174.39 384.3,172.86 386.73,172.73" fill="none" stroke="#0072BD" stroke-width="0.9"/>
<polygon points="391.2,101 392.22,102.63 394.14,102.7 393.24,104.4 394.14,106.1 392.22,106.17 391.2,107.8 390.18,106.17 388.26,106.1 389.16,104.4 388.26,102.7 390.18,102.63" fill="none" stroke="#D95319" stroke-width="0.9"/>
<path d="M417.9 142.4H425.3M421.6 138.7V146.1M418.94 139.74L424.26 145.06M418.94 145.06L424.26 139.74" fill="none" stroke="#ff0000" stroke-width="0.9"/>
<circle cx="417.4" cy="77.9" r="3.23" fill="none" stroke="#ff0000" stroke-width="0.9"/>
<path d="M415.6 160.7H423M419.3 157V164.4" fill="none" stroke="#0072BD" stroke-width="0.9"/>
<path d="M416.48 145.97L421.73 151.22M416.48 151.22L421.73 145.97" fill="none" stroke="#D95319" stroke-width="0.9"/>
<rect x="415.94" y="83.24" width="5.12" height="5.12" fill="none" stroke="#EDB120" stroke-width="0.9"/>
<polygon points="415.1,124 418.6,130.12 411.6,130.12" fill="none" stroke="#7E2F8E" stroke-width="0.9"/>
<polygon points="415.1,143.3 418.6,137.18 411.6,137.18" fill="none" stroke="#77AC30" stroke-width="0.9"/>
<polygon points="420.5,62.7 414.38,66.2 414.38,59.2" fill="none" stroke="#4DBEEE" stroke-width="0.9"/>
<polygon points="410,52.5 416.12,56 416.12,49" fill="none" stroke="#A2142F" stroke-width="0.9"/>
<path d="M410.9 93.6H418.3M414.6 89.9V97.3M411.94 90.94L417.26 96.26M411.94 96.26L417.26 90.94" fill="none" stroke="#000000" stroke-width="0.9"/>
<polygon points="423,58.45 426.33,62.7 423,66.95 419.67,62.7" fill="none" stroke="#ff0000" stroke-width="0.9"/>
<polygon points="418.5,100.15 421.83,104.4 418.5,108.66 415.17,104.4" fill="none" stroke="#00ff00" stroke-width="0.9"/>
<polygon points="414,72.55 417.33,76.8 414,81.05 410.67,76.8" fill="none" stroke="#0000ff" stroke-width="0.9"/>
<polygon points="417.9,38.14 421.23,42.4 417.9,46.66 414.57,42.4" fill="none" stroke="#ff00ff" stroke-width="0.9"/>
<circle cx="414.6" cy="113.5" r="3.23" fill="none" stroke="#000000" stroke-width="0.9"/>
<polygon points="414,173.27 414.87,175.53 417.3,175.66 415.41,177.19 416.04,179.53 414,178.22 411.96,179.53 412.59,177.19 410.7,175.66 413.13,175.53" fill="none" stroke="#0072BD" stroke-width="0.9"/>
<polygon points="417.4,85.2 418.42,86.83 420.34,86.9 419.44,88.6 420.34,90.3 418.42,90.37 417.4,92 416.38,90.37 414.46,90.3 415.36,88.6 414.46,86.9 416.38,86.83" fill="none" stroke="#D95319" stroke-width="0.9"/>
<path d="M444.5 86.9H451.9M448.2 83.2V90.6M445.54 84.24L450.86 89.56M445.54 89.56L450.86 84.24" fill="none" stroke="#ff0000" stroke-width="0.9"/>
<circle cx="443.2" cy="70" r="3.23" fill="none" stroke="#ff0000" stroke-width="0.9"/>
<path d="M442.3 158H449.7M446 154.3V161.7" fill="none" stroke="#0072BD" stroke-width="0.9"/>
<path d="M443.07 147.38L448.32 152.62M443.07 152.62L448.32 147.38" fill="none" stroke="#D95319" stroke-width="0.9"/>
<rect x="442.34" y="101.94" width="5.12" height="5.12" fill="none" stroke="#EDB120" stroke-width="0.9"/>
<polygon points="441.5,150.5 445,156.62 438,156.62" fill="none" stroke="#7E2F8E" stroke-width="0.9"/>
<polygon points="441.5,170.4 445,164.28 438,164.28" fill="none" stroke="#77AC30" stroke-width="0.9"/>
<polygon points="447.2,96.4 441.07,99.9 441.07,92.9" fill="none" stroke="#4DBEEE" stroke-width="0.9"/>
<polygon points="436.3,135.9 442.43,139.4 442.43,132.4" fill="none" stroke="#A2142F" stroke-width="0.9"/>
<path d="M437.8 115.7H445.2M441.5 112V119.4M438.84 113.04L444.16 118.36M438.84 118.36L444.16 113.04" fill="none" stroke="#000000" stroke-width="0.9"/>
<polygon points="449.3,56.54 452.63,60.8 449.3,65.05 445.97,60.8" fill="none" stroke="#ff0000" stroke-width="0.9"/>
<polygon points="444.6,99.05 447.93,103.3 444.6,107.55 441.27,103.3" fill="none" stroke="#00ff00" stroke-width="0.9"/>
<polygon points="440.4,69.25 443.73,73.5 440.4,77.75 437.07,73.5" fill="none" stroke="#0000ff" stroke-width="0.9"/>
<polygon points="444.3,28.95 447.63,33.2 444.3,37.46 440.97,33.2" fill="none" stroke="#ff00ff" stroke-width="0.9"/>
<circle cx="441.2" cy="146.1" r="3.23" fill="none" stroke="#000000" stroke-width="0.9"/>
<polygon points="440.4,171.67 441.27,173.93 443.7,174.06 441.81,175.59 442.44,177.93 440.4,176.62 438.36,177.93 438.99,175.59 437.1,174.06 439.53,173.93" fill="none" stroke="#0072BD" stroke-width="0.9"/>
<polygon points="443.2,83.5 444.22,85.13 446.14,85.2 445.24,86.9 446.14,88.6 444.22,88.67 443.2,90.3 442.18,88.67 440.26,88.6 441.16,86.9 440.26,85.2 442.18,85.13" fill="none" stroke="#D95319" stroke-width="0.9"/>
<path d="M471.6 82.9H479M475.3 79.2V86.6M472.64 80.24L477.96 85.56M472.64 85.56L477.96 80.24" fill="none" stroke="#ff0000" stroke-width="0.9"/>
<circle cx="469.2" cy="82.3" r="3.23" fill="none" stroke="#ff0000" stroke-width="0.9"/>
<path d="M469.1 76.2H476.5M472.8 72.5V79.9" fill="none" stroke="#0072BD" stroke-width="0.9"/>
<path d="M469.27 138.57L474.52 143.82M469.27 143.82L474.52 138.57" fill="none" stroke="#D95319" stroke-width="0.9"/>
<rect x="468.14" y="92.14" width="5.12" height="5.12" fill="none" stroke="#EDB120" stroke-width="0.9"/>
<polygon points="468.6,130 472.1,136.12 465.1,136.12" fill="none" stroke="#7E2F8E" stroke-width="0.9"/>
<polygon points="467.8,121.7 471.3,115.58 464.3,115.58" fill="none" stroke="#77AC30" stroke-width="0.9"/>
<polygon points="473.7,60.8 467.57,64.3 467.57,57.3" fill="none" stroke="#4DBEEE" stroke-width="0.9"/>
<polygon points="462.1,83.4 468.23,86.9 468.23,79.9" fill="none" stroke="#A2142F" stroke-width="0.9"/>
<path d="M463.4 91.1H470.8M467.1 87.4V94.8M464.44 88.44L469.76 93.76M464.44 93.76L469.76 88.44" fill="none" stroke="#000000" stroke-width="0.9"/>
<polygon points="475.6,40.95 478.93,45.2 475.6,49.46 472.27,45.2" fill="none" stroke="#ff0000" stroke-width="0.9"/>
<polygon points="471.7,79.65 475.03,83.9 471.7,88.16 468.37,83.9" fill="none" stroke="#00ff00" stroke-width="0.9"/>
<polygon points="467.1,70.65 470.43,74.9 467.1,79.16 463.77,74.9" fill="none" stroke="#0000ff" stroke-width="0.9"/>
<polygon points="470.9,53.54 474.23,57.8 470.9,62.05 467.57,57.8" fill="none" stroke="#ff00ff" stroke-width="0.9"/>
<circle cx="467.1" cy="134.5" r="3.23" fill="none" stroke="#000000" stroke-width="0.9"/>
<polygon points="466.8,156.06 467.67,158.33 470.1,158.46 468.21,159.99 468.84,162.33 466.8,161.02 464.76,162.33 465.39,159.99 463.5,158.46 465.93,158.33" fill="none" stroke="#0072BD" stroke-width="0.9"/>
<polygon points="470.7,91.8 471.72,93.43 473.64,93.5 472.74,95.2 473.64,96.9 471.72,96.97 470.7,98.6 469.68,96.97 467.76,96.9 468.66,95.2 467.76,93.5 469.68,93.43" fill="none" stroke="#D95319" stroke-width="0.9"/>
<path d="M8.9 678.5H15.5M12.2 675.2V681.8M9.82 676.12L14.58 680.88M9.82 680.88L14.58 676.12" fill="none" stroke="#ff0000" stroke-width="1.1"/>
<circle cx="42.5" cy="678.5" r="2.94" fill="none" stroke="#ff0000" stroke-width="1.1"/>
<path d="M68.9 678.5H75.7M72.3 675.1V681.9" fill="none" stroke="#0072BD" stroke-width="1.1"/>
<path d="M100.38 676.17L105.03 680.83M100.38 680.83L105.03 676.17" fill="none" stroke="#D95319" stroke-width="1.1"/>
<rect x="131.42" y="676.42" width="4.16" height="4.16" fill="none" stroke="#EDB120" stroke-width="1.1"/>
<polygon points="163.2,675.3 166.4,680.9 160,680.9" fill="none" stroke="#7E2F8E" stroke-width="1.1"/>
<polygon points="193.6,681.7 196.8,676.1 190.4,676.1" fill="none" stroke="#77AC30" stroke-width="1.1"/>
<polygon points="227.9,678.5 222.3,681.7 222.3,675.3" fill="none" stroke="#4DBEEE" stroke-width="1.1"/>
<polygon points="251,678.5 256.6,681.7 256.6,675.3" fill="none" stroke="#A2142F" stroke-width="1.1"/>
<path d="M281.3 678.5H287.9M284.6 675.2V681.8M282.22 676.12L286.98 680.88M282.22 680.88L286.98 676.12" fill="none" stroke="#000000" stroke-width="1.1"/>
<polygon points="319.1,674.93 321.89,678.5 319.1,682.07 316.31,678.5" fill="none" stroke="#ff0000" stroke-width="1.1"/>
<polygon points="353.4,674.93 356.19,678.5 353.4,682.07 350.61,678.5" fill="none" stroke="#00ff00" stroke-width="1.1"/>
<polygon points="387.2,674.93 389.99,678.5 387.2,682.07 384.41,678.5" fill="none" stroke="#0000ff" stroke-width="1.1"/>
<polygon points="421.4,674.93 424.19,678.5 421.4,682.07 418.61,678.5" fill="none" stroke="#ff00ff" stroke-width="1.1"/>
<circle cx="453.4" cy="678.5" r="2.94" fill="none" stroke="#000000" stroke-width="1.1"/>
<polygon points="483.7,675.55 484.52,677.68 486.8,677.8 485.03,679.24 485.61,681.44 483.7,680.2 481.79,681.44 482.37,679.24 480.6,677.8 482.88,677.68" fill="none" stroke="#0072BD" stroke-width="1.1"/>
<polygon points="513.6,675.4 514.53,676.89 516.28,676.95 515.46,678.5 516.28,680.05 514.53,680.11 513.6,681.6 512.67,680.11 510.92,680.05 511.74,678.5 510.92,676.95 512.67,676.89" fill="none" stroke="#D95319" stroke-width="1.1"/>
<path d="M174.24 287H181.24M177.74 283.5V290.5M175.22 284.48L180.26 289.52M175.22 289.52L180.26 284.48" fill="none" stroke="#ff0000" stroke-width="0.85"/>
<circle cx="174.36" cy="290" r="2.99" fill="none" stroke="#ff0000" stroke-width="0.85"/>
<path d="M172.96 291H179.76M176.36 287.6V294.4" fill="none" stroke="#0072BD" stroke-width="0.85"/>
<path d="M173.69 284.18L178.34 288.82M173.69 288.82L178.34 284.18" fill="none" stroke="#D95319" stroke-width="0.85"/>
<rect x="173.28" y="283.18" width="4.64" height="4.64" fill="none" stroke="#EDB120" stroke-width="0.85"/>
<polygon points="172.84,284.7 176.14,290.48 169.54,290.48" fill="none" stroke="#7E2F8E" stroke-width="0.85"/>
<polygon points="173.19,293.3 176.49,287.52 169.89,287.52" fill="none" stroke="#77AC30" stroke-width="0.85"/>
<polygon points="178.42,294 172.64,297.3 172.64,290.7" fill="none" stroke="#4DBEEE" stroke-width="0.85"/>
<polygon points="168.16,290.5 173.94,293.8 173.94,287.2" fill="none" stroke="#A2142F" stroke-width="0.85"/>
<path d="M169.2 276.3H176.2M172.7 272.8V279.8M170.18 273.78L175.22 278.82M170.18 278.82L175.22 273.78" fill="none" stroke="#000000" stroke-width="0.85"/>
<polygon points="178.7,282.4 181.67,286.2 178.7,290 175.73,286.2" fill="none" stroke="#ff0000" stroke-width="0.85"/>
<circle cx="172.84" cy="291" r="2.99" fill="none" stroke="#000000" stroke-width="0.85"/>
<polygon points="172.43,289.06 173.25,291.18 175.52,291.3 173.76,292.74 174.34,294.94 172.43,293.7 170.52,294.94 171.1,292.74 169.33,291.3 171.61,291.18" fill="none" stroke="#0072BD" stroke-width="0.85"/>
<polygon points="174.63,281.35 175.58,282.86 177.36,282.93 176.52,284.5 177.36,286.07 175.58,286.14 174.63,287.65 173.69,286.14 171.91,286.07 172.74,284.5 171.91,282.93 173.69,282.86" fill="none" stroke="#D95319" stroke-width="0.85"/>
<path d="M191.54 286H198.54M195.04 282.5V289.5M192.52 283.48L197.56 288.52M192.52 288.52L197.56 283.48" fill="none" stroke="#ff0000" stroke-width="0.85"/>
<circle cx="191.66" cy="288" r="2.99" fill="none" stroke="#ff0000" stroke-width="0.85"/>
<path d="M190.26 289H197.06M193.66 285.6V292.4" fill="none" stroke="#0072BD" stroke-width="0.85"/>
<path d="M190.99 282.68L195.64 287.32M190.99 287.32L195.64 282.68" fill="none" stroke="#D95319" stroke-width="0.85"/>
<rect x="190.58" y="282.18" width="4.64" height="4.64" fill="none" stroke="#EDB120" stroke-width="0.85"/>
<polygon points="190.14,282.7 193.44,288.48 186.84,288.48" fill="none" stroke="#7E2F8E" stroke-width="0.85"/>
<polygon points="190.49,292.3 193.79,286.52 187.19,286.52" fill="none" stroke="#77AC30" stroke-width="0.85"/>
<polygon points="195.72,292.5 189.94,295.8 189.94,289.2" fill="none" stroke="#4DBEEE" stroke-width="0.85"/>
<polygon points="185.46,289 191.24,292.3 191.24,285.7" fill="none" stroke="#A2142F" stroke-width="0.85"/>
<path d="M186.5 278.6H193.5M190 275.1V282.1M187.48 276.08L192.52 281.12M187.48 281.12L192.52 276.08" fill="none" stroke="#000000" stroke-width="0.85"/>
<polygon points="196,281.5 198.97,285.3 196,289.1 193.03,285.3" fill="none" stroke="#ff0000" stroke-width="0.85"/>
<circle cx="190.14" cy="289" r="2.99" fill="none" stroke="#000000" stroke-width="0.85"/>
<polygon points="189.73,287.06 190.55,289.18 192.82,289.3 191.06,290.74 191.64,292.94 189.73,291.7 187.82,292.94 188.4,290.74 186.63,289.3 188.91,289.18" fill="none" stroke="#0072BD" stroke-width="0.85"/>
<polygon points="191.93,280.85 192.88,282.36 194.66,282.43 193.82,284 194.66,285.57 192.88,285.64 191.93,287.15 190.99,285.64 189.21,285.57 190.04,284 189.21,282.43 190.99,282.36" fill="none" stroke="#D95319" stroke-width="0.85"/>
<path d="M208.84 277.2H215.84M212.34 273.7V280.7M209.82 274.68L214.86 279.72M209.82 279.72L214.86 274.68" fill="none" stroke="#ff0000" stroke-width="0.85"/>
<circle cx="208.96" cy="281.5" r="2.99" fill="none" stroke="#ff0000" stroke-width="0.85"/>
<path d="M207.56 291H214.36M210.96 287.6V294.4" fill="none" stroke="#0072BD" stroke-width="0.85"/>
<path d="M208.29 288.68L212.94 293.32M208.29 293.32L212.94 288.68" fill="none" stroke="#D95319" stroke-width="0.85"/>
<rect x="207.88" y="283.68" width="4.64" height="4.64" fill="none" stroke="#EDB120" stroke-width="0.85"/>
<polygon points="207.44,273.9 210.74,279.68 204.14,279.68" fill="none" stroke="#7E2F8E" stroke-width="0.85"/>
<polygon points="207.79,286.3 211.09,280.52 204.49,280.52" fill="none" stroke="#77AC30" stroke-width="0.85"/>
<polygon points="213.02,295 207.24,298.3 207.24,291.7" fill="none" stroke="#4DBEEE" stroke-width="0.85"/>
<polygon points="202.76,289 208.54,292.3 208.54,285.7" fill="none" stroke="#A2142F" stroke-width="0.85"/>
<path d="M203.8 273H210.8M207.3 269.5V276.5M204.78 270.48L209.82 275.52M204.78 275.52L209.82 270.48" fill="none" stroke="#000000" stroke-width="0.85"/>
<polygon points="213.3,282.7 216.27,286.5 213.3,290.3 210.33,286.5" fill="none" stroke="#ff0000" stroke-width="0.85"/>
<circle cx="207.44" cy="281.9" r="2.99" fill="none" stroke="#000000" stroke-width="0.85"/>
<polygon points="207.03,288.66 207.85,290.78 210.12,290.9 208.36,292.34 208.94,294.54 207.03,293.31 205.12,294.54 205.7,292.34 203.93,290.9 206.21,290.78" fill="none" stroke="#0072BD" stroke-width="0.85"/>
<polygon points="209.23,287.35 210.18,288.86 211.96,288.93 211.12,290.5 211.96,292.07 210.18,292.14 209.23,293.65 208.29,292.14 206.51,292.07 207.34,290.5 206.51,288.93 208.29,288.86" fill="none" stroke="#D95319" stroke-width="0.85"/>
<path d="M226.14 266.2H233.14M229.64 262.7V269.7M227.12 263.68L232.16 268.72M227.12 268.72L232.16 263.68" fill="none" stroke="#ff0000" stroke-width="0.85"/>
<circle cx="226.26" cy="284.8" r="2.99" fill="none" stroke="#ff0000" stroke-width="0.85"/>
<path d="M224.86 279H231.66M228.26 275.6V282.4" fill="none" stroke="#0072BD" stroke-width="0.85"/>
<path d="M225.59 275.68L230.24 280.32M225.59 280.32L230.24 275.68" fill="none" stroke="#D95319" stroke-width="0.85"/>
<rect x="225.18" y="267.68" width="4.64" height="4.64" fill="none" stroke="#EDB120" stroke-width="0.85"/>
<polygon points="224.74,257 228.04,262.78 221.44,262.78" fill="none" stroke="#7E2F8E" stroke-width="0.85"/>
<polygon points="225.09,276.3 228.39,270.52 221.79,270.52" fill="none" stroke="#77AC30" stroke-width="0.85"/>
<polygon points="230.32,284 224.54,287.3 224.54,280.7" fill="none" stroke="#4DBEEE" stroke-width="0.85"/>
<polygon points="220.06,274 225.84,277.3 225.84,270.7" fill="none" stroke="#A2142F" stroke-width="0.85"/>
<path d="M221.1 245.5H228.1M224.6 242V249M222.08 242.98L227.12 248.02M222.08 248.02L227.12 242.98" fill="none" stroke="#000000" stroke-width="0.85"/>
<polygon points="230.6,264.1 233.57,267.9 230.6,271.69 227.63,267.9" fill="none" stroke="#ff0000" stroke-width="0.85"/>
<circle cx="224.74" cy="272.6" r="2.99" fill="none" stroke="#000000" stroke-width="0.85"/>
<polygon points="224.33,276.36 225.15,278.48 227.42,278.6 225.66,280.04 226.24,282.24 224.33,281 222.42,282.24 223,280.04 221.23,278.6 223.51,278.48" fill="none" stroke="#0072BD" stroke-width="0.85"/>
<polygon points="226.53,274.35 227.48,275.86 229.26,275.93 228.42,277.5 229.26,279.07 227.48,279.14 226.53,280.65 225.59,279.14 223.81,279.07 224.64,277.5 223.81,275.93 225.59,275.86" fill="none" stroke="#D95319" stroke-width="0.85"/>
<path d="M306.61 283.3H313.61M310.11 279.8V286.8M307.59 280.78L312.63 285.82M307.59 285.82L312.63 280.78" fill="none" stroke="#ff0000" stroke-width="0.85"/>
<circle cx="306.77" cy="285.5" r="2.99" fill="none" stroke="#ff0000" stroke-width="0.85"/>
<path d="M305.35 283.5H312.15M308.75 280.1V286.9" fill="none" stroke="#0072BD" stroke-width="0.85"/>
<path d="M306.08 279.68L310.73 284.32M306.08 284.32L310.73 279.68" fill="none" stroke="#D95319" stroke-width="0.85"/>
<rect x="305.68" y="274.18" width="4.64" height="4.64" fill="none" stroke="#EDB120" stroke-width="0.85"/>
<polygon points="305.27,275.5 308.57,281.28 301.97,281.28" fill="none" stroke="#7E2F8E" stroke-width="0.85"/>
<polygon points="305.62,287.3 308.92,281.52 302.32,281.52" fill="none" stroke="#77AC30" stroke-width="0.85"/>
<polygon points="310.82,285.1 305.05,288.4 305.05,281.8" fill="none" stroke="#4DBEEE" stroke-width="0.85"/>
<polygon points="300.61,285.9 306.39,289.2 306.39,282.6" fill="none" stroke="#A2142F" stroke-width="0.85"/>
<path d="M301.64 263.5H308.64M305.14 260V267M302.62 260.98L307.66 266.02M302.62 266.02L307.66 260.98" fill="none" stroke="#000000" stroke-width="0.85"/>
<polygon points="311.07,272 314.04,275.8 311.07,279.6 308.1,275.8" fill="none" stroke="#ff0000" stroke-width="0.85"/>
<circle cx="305.27" cy="283.6" r="2.99" fill="none" stroke="#000000" stroke-width="0.85"/>
<polygon points="304.87,280.06 305.69,282.18 307.96,282.3 306.19,283.74 306.78,285.94 304.87,284.7 302.95,285.94 303.54,283.74 301.77,282.3 304.05,282.18" fill="none" stroke="#0072BD" stroke-width="0.85"/>
<polygon points="307.05,269.65 307.99,271.16 309.77,271.23 308.94,272.8 309.77,274.38 307.99,274.44 307.05,275.95 306.1,274.44 304.32,274.38 305.16,272.8 304.32,271.23 306.1,271.16" fill="none" stroke="#D95319" stroke-width="0.85"/>
<path d="M323.71 280H330.71M327.21 276.5V283.5M324.69 277.48L329.73 282.52M324.69 282.52L329.73 277.48" fill="none" stroke="#ff0000" stroke-width="0.85"/>
<circle cx="323.87" cy="282" r="2.99" fill="none" stroke="#ff0000" stroke-width="0.85"/>
<path d="M322.45 281H329.25M325.85 277.6V284.4" fill="none" stroke="#0072BD" stroke-width="0.85"/>
<path d="M323.18 272.18L327.83 276.82M323.18 276.82L327.83 272.18" fill="none" stroke="#D95319" stroke-width="0.85"/>
<rect x="322.78" y="275.68" width="4.64" height="4.64" fill="none" stroke="#EDB120" stroke-width="0.85"/>
<polygon points="322.37,272.9 325.67,278.68 319.07,278.68" fill="none" stroke="#7E2F8E" stroke-width="0.85"/>
<polygon points="322.72,285.3 326.02,279.52 319.42,279.52" fill="none" stroke="#77AC30" stroke-width="0.85"/>
<polygon points="327.92,285.1 322.15,288.4 322.15,281.8" fill="none" stroke="#4DBEEE" stroke-width="0.85"/>
<polygon points="317.71,281 323.49,284.3 323.49,277.7" fill="none" stroke="#A2142F" stroke-width="0.85"/>
<path d="M318.74 270.2H325.74M322.24 266.7V273.7M319.72 267.68L324.76 272.72M319.72 272.72L324.76 267.68" fill="none" stroke="#000000" stroke-width="0.85"/>
<polygon points="328.17,272.7 331.14,276.5 328.17,280.3 325.2,276.5" fill="none" stroke="#ff0000" stroke-width="0.85"/>
<circle cx="322.37" cy="280.7" r="2.99" fill="none" stroke="#000000" stroke-width="0.85"/>
<polygon points="321.97,277.56 322.79,279.68 325.06,279.8 323.29,281.24 323.88,283.44 321.97,282.2 320.05,283.44 320.64,281.24 318.87,279.8 321.15,279.68" fill="none" stroke="#0072BD" stroke-width="0.85"/>
<polygon points="324.15,270.75 325.09,272.26 326.87,272.32 326.04,273.9 326.87,275.47 325.09,275.54 324.15,277.05 323.2,275.54 321.42,275.47 322.26,273.9 321.42,272.32 323.2,272.26" fill="none" stroke="#D95319" stroke-width="0.85"/>
<path d="M340.81 262.9H347.81M344.31 259.4V266.4M341.79 260.38L346.83 265.42M341.79 265.42L346.83 260.38" fill="none" stroke="#ff0000" stroke-width="0.85"/>
<circle cx="340.97" cy="285.7" r="2.99" fill="none" stroke="#ff0000" stroke-width="0.85"/>
<path d="M339.55 283H346.35M342.95 279.6V286.4" fill="none" stroke="#0072BD" stroke-width="0.85"/>
<path d="M340.28 281.28L344.93 285.93M340.28 285.93L344.93 281.28" fill="none" stroke="#D95319" stroke-width="0.85"/>
<rect x="339.88" y="273.28" width="4.64" height="4.64" fill="none" stroke="#EDB120" stroke-width="0.85"/>
<polygon points="339.47,258.8 342.77,264.58 336.17,264.58" fill="none" stroke="#7E2F8E" stroke-width="0.85"/>
<polygon points="339.82,280.3 343.12,274.52 336.52,274.52" fill="none" stroke="#77AC30" stroke-width="0.85"/>
<polygon points="345.02,289.1 339.25,292.4 339.25,285.8" fill="none" stroke="#4DBEEE" stroke-width="0.85"/>
<polygon points="334.81,271.4 340.59,274.7 340.59,268.1" fill="none" stroke="#A2142F" stroke-width="0.85"/>
<path d="M335.84 266.3H342.84M339.34 262.8V269.8M336.82 263.78L341.86 268.82M336.82 268.82L341.86 263.78" fill="none" stroke="#000000" stroke-width="0.85"/>
<polygon points="345.27,277.31 348.24,281.1 345.27,284.9 342.3,281.1" fill="none" stroke="#ff0000" stroke-width="0.85"/>
<circle cx="339.47" cy="274.3" r="2.99" fill="none" stroke="#000000" stroke-width="0.85"/>
<polygon points="339.07,280.25 339.89,282.38 342.16,282.5 340.39,283.94 340.98,286.14 339.07,284.9 337.15,286.14 337.74,283.94 335.97,282.5 338.25,282.38" fill="none" stroke="#0072BD" stroke-width="0.85"/>
<polygon points="341.25,278.85 342.19,280.36 343.97,280.43 343.14,282 343.97,283.57 342.19,283.64 341.25,285.15 340.3,283.64 338.52,283.57 339.36,282 338.52,280.43 340.3,280.36" fill="none" stroke="#D95319" stroke-width="0.85"/>
<path d="M357.91 255.7H364.91M361.41 252.2V259.2M358.89 253.18L363.93 258.22M358.89 258.22L363.93 253.18" fill="none" stroke="#ff0000" stroke-width="0.85"/>
<circle cx="358.07" cy="279.8" r="2.99" fill="none" stroke="#ff0000" stroke-width="0.85"/>
<path d="M356.65 272H363.45M360.05 268.6V275.4" fill="none" stroke="#0072BD" stroke-width="0.85"/>
<path d="M357.38 266.48L362.03 271.12M357.38 271.12L362.03 266.48" fill="none" stroke="#D95319" stroke-width="0.85"/>
<rect x="356.98" y="259.78" width="4.64" height="4.64" fill="none" stroke="#EDB120" stroke-width="0.85"/>
<polygon points="356.57,246.9 359.87,252.67 353.27,252.67" fill="none" stroke="#7E2F8E" stroke-width="0.85"/>
<polygon points="356.92,269.3 360.22,263.52 353.62,263.52" fill="none" stroke="#77AC30" stroke-width="0.85"/>
<polygon points="362.12,278.1 356.35,281.4 356.35,274.8" fill="none" stroke="#4DBEEE" stroke-width="0.85"/>
<polygon points="351.91,267 357.69,270.3 357.69,263.7" fill="none" stroke="#A2142F" stroke-width="0.85"/>
<path d="M352.94 241.8H359.94M356.44 238.3V245.3M353.92 239.28L358.96 244.32M353.92 244.32L358.96 239.28" fill="none" stroke="#000000" stroke-width="0.85"/>
<polygon points="362.37,259.1 365.34,262.9 362.37,266.69 359.4,262.9" fill="none" stroke="#ff0000" stroke-width="0.85"/>
<circle cx="356.57" cy="266.3" r="2.99" fill="none" stroke="#000000" stroke-width="0.85"/>
<polygon points="356.17,270.56 356.99,272.68 359.26,272.8 357.49,274.24 358.08,276.44 356.17,275.2 354.25,276.44 354.84,274.24 353.07,272.8 355.35,272.68" fill="none" stroke="#0072BD" stroke-width="0.85"/>
<polygon points="358.35,264.85 359.29,266.36 361.07,266.43 360.24,268 361.07,269.57 359.29,269.64 358.35,271.15 357.4,269.64 355.62,269.57 356.46,268 355.62,266.43 357.4,266.36" fill="none" stroke="#D95319" stroke-width="0.85"/>
<path d="M438.53 286.6H445.53M442.03 283.1V290.1M439.51 284.08L444.55 289.12M439.51 289.12L444.55 284.08" fill="none" stroke="#ff0000" stroke-width="0.85"/>
<circle cx="438.69" cy="288" r="2.99" fill="none" stroke="#ff0000" stroke-width="0.85"/>
<path d="M437.27 287.5H444.07M440.67 284.1V290.9" fill="none" stroke="#0072BD" stroke-width="0.85"/>
<path d="M438 288.07L442.65 292.72M438 292.72L442.65 288.07" fill="none" stroke="#D95319" stroke-width="0.85"/>
<rect x="437.6" y="280.68" width="4.64" height="4.64" fill="none" stroke="#EDB120" stroke-width="0.85"/>
<polygon points="437.19,278.8 440.49,284.58 433.89,284.58" fill="none" stroke="#7E2F8E" stroke-width="0.85"/>
<polygon points="437.53,291.3 440.83,285.52 434.23,285.52" fill="none" stroke="#77AC30" stroke-width="0.85"/>
<polygon points="442.74,289 436.97,292.3 436.97,285.7" fill="none" stroke="#4DBEEE" stroke-width="0.85"/>
<polygon points="432.53,290.4 438.3,293.7 438.3,287.1" fill="none" stroke="#A2142F" stroke-width="0.85"/>
<path d="M433.55 276.5H440.55M437.05 273V280M434.53 273.98L439.57 279.02M434.53 279.02L439.57 273.98" fill="none" stroke="#000000" stroke-width="0.85"/>
<polygon points="442.99,276.5 445.96,280.3 442.99,284.1 440.02,280.3" fill="none" stroke="#ff0000" stroke-width="0.85"/>
<circle cx="437.19" cy="287" r="2.99" fill="none" stroke="#000000" stroke-width="0.85"/>
<polygon points="436.78,284.06 437.6,286.18 439.88,286.3 438.11,287.74 438.7,289.94 436.78,288.7 434.87,289.94 435.46,287.74 433.69,286.3 435.96,286.18" fill="none" stroke="#0072BD" stroke-width="0.85"/>
<polygon points="438.96,273.35 439.91,274.86 441.69,274.93 440.85,276.5 441.69,278.07 439.91,278.14 438.96,279.65 438.02,278.14 436.24,278.07 437.07,276.5 436.24,274.93 438.02,274.86" fill="none" stroke="#D95319" stroke-width="0.85"/>
<path d="M455.65 279H462.65M459.15 275.5V282.5M456.63 276.48L461.67 281.52M456.63 281.52L461.67 276.48" fill="none" stroke="#ff0000" stroke-width="0.85"/>
<circle cx="455.81" cy="277" r="2.99" fill="none" stroke="#ff0000" stroke-width="0.85"/>
<path d="M454.39 280H461.19M457.79 276.6V283.4" fill="none" stroke="#0072BD" stroke-width="0.85"/>
<path d="M455.12 276.68L459.77 281.32M455.12 281.32L459.77 276.68" fill="none" stroke="#D95319" stroke-width="0.85"/>
<rect x="454.72" y="270.88" width="4.64" height="4.64" fill="none" stroke="#EDB120" stroke-width="0.85"/>
<polygon points="454.31,261.7 457.61,267.48 451.01,267.48" fill="none" stroke="#7E2F8E" stroke-width="0.85"/>
<polygon points="454.65,288.4 457.95,282.62 451.35,282.62" fill="none" stroke="#77AC30" stroke-width="0.85"/>
<polygon points="459.86,282.9 454.09,286.2 454.09,279.6" fill="none" stroke="#4DBEEE" stroke-width="0.85"/>
<polygon points="449.65,278 455.42,281.3 455.42,274.7" fill="none" stroke="#A2142F" stroke-width="0.85"/>
<path d="M450.67 260.5H457.67M454.17 257V264M451.65 257.98L456.69 263.02M451.65 263.02L456.69 257.98" fill="none" stroke="#000000" stroke-width="0.85"/>
<polygon points="460.11,272.7 463.08,276.5 460.11,280.3 457.14,276.5" fill="none" stroke="#ff0000" stroke-width="0.85"/>
<circle cx="454.31" cy="277.3" r="2.99" fill="none" stroke="#000000" stroke-width="0.85"/>
<polygon points="453.9,278.45 454.72,280.58 457,280.7 455.23,282.14 455.82,284.34 453.9,283.1 451.99,284.34 452.58,282.14 450.81,280.7 453.08,280.58" fill="none" stroke="#0072BD" stroke-width="0.85"/>
<polygon points="456.08,264.85 457.03,266.36 458.81,266.43 457.97,268 458.81,269.57 457.03,269.64 456.08,271.15 455.14,269.64 453.36,269.57 454.19,268 453.36,266.43 455.14,266.36" fill="none" stroke="#D95319" stroke-width="0.85"/>
<path d="M472.77 271.2H479.77M476.27 267.7V274.7M473.75 268.68L478.79 273.72M473.75 273.72L478.79 268.68" fill="none" stroke="#ff0000" stroke-width="0.85"/>
<circle cx="472.93" cy="275.7" r="2.99" fill="none" stroke="#ff0000" stroke-width="0.85"/>
<path d="M471.51 283H478.31M474.91 279.6V286.4" fill="none" stroke="#0072BD" stroke-width="0.85"/>
<path d="M472.24 280.07L476.89 284.72M472.24 284.72L476.89 280.07" fill="none" stroke="#D95319" stroke-width="0.85"/>
<rect x="471.84" y="274.08" width="4.64" height="4.64" fill="none" stroke="#EDB120" stroke-width="0.85"/>
<polygon points="471.43,260.8 474.73,266.58 468.13,266.58" fill="none" stroke="#7E2F8E" stroke-width="0.85"/>
<polygon points="471.77,286.3 475.07,280.52 468.47,280.52" fill="none" stroke="#77AC30" stroke-width="0.85"/>
<polygon points="476.98,289.9 471.21,293.2 471.21,286.6" fill="none" stroke="#4DBEEE" stroke-width="0.85"/>
<polygon points="466.77,281 472.54,284.3 472.54,277.7" fill="none" stroke="#A2142F" stroke-width="0.85"/>
<path d="M467.79 268.2H474.79M471.29 264.7V271.7M468.77 265.68L473.81 270.72M468.77 270.72L473.81 265.68" fill="none" stroke="#000000" stroke-width="0.85"/>
<polygon points="477.23,278.6 480.2,282.4 477.23,286.19 474.26,282.4" fill="none" stroke="#ff0000" stroke-width="0.85"/>
<circle cx="471.43" cy="279.4" r="2.99" fill="none" stroke="#000000" stroke-width="0.85"/>
<polygon points="471.02,279.45 471.84,281.58 474.12,281.7 472.35,283.14 472.94,285.34 471.02,284.1 469.11,285.34 469.7,283.14 467.93,281.7 470.2,281.58" fill="none" stroke="#0072BD" stroke-width="0.85"/>
<polygon points="473.2,278.85 474.15,280.36 475.93,280.43 475.09,282 475.93,283.57 474.15,283.64 473.2,285.15 472.26,283.64 470.48,283.57 471.31,282 470.48,280.43 472.26,280.36" fill="none" stroke="#D95319" stroke-width="0.85"/>
<path d="M489.89 265.6H496.89M493.39 262.1V269.1M490.87 263.08L495.91 268.12M490.87 268.12L495.91 263.08" fill="none" stroke="#ff0000" stroke-width="0.85"/>
<circle cx="490.05" cy="270" r="2.99" fill="none" stroke="#ff0000" stroke-width="0.85"/>
<path d="M488.63 276H495.43M492.03 272.6V279.4" fill="none" stroke="#0072BD" stroke-width="0.85"/>
<path d="M489.36 271.68L494.01 276.32M489.36 276.32L494.01 271.68" fill="none" stroke="#D95319" stroke-width="0.85"/>
<rect x="488.96" y="261.78" width="4.64" height="4.64" fill="none" stroke="#EDB120" stroke-width="0.85"/>
<polygon points="488.55,248.1 491.85,253.88 485.25,253.88" fill="none" stroke="#7E2F8E" stroke-width="0.85"/>
<polygon points="488.89,279.3 492.19,273.52 485.59,273.52" fill="none" stroke="#77AC30" stroke-width="0.85"/>
<polygon points="494.1,277.9 488.33,281.2 488.33,274.6" fill="none" stroke="#4DBEEE" stroke-width="0.85"/>
<polygon points="483.89,274 489.66,277.3 489.66,270.7" fill="none" stroke="#A2142F" stroke-width="0.85"/>
<path d="M484.91 250.2H491.91M488.41 246.7V253.7M485.89 247.68L490.93 252.72M485.89 252.72L490.93 247.68" fill="none" stroke="#000000" stroke-width="0.85"/>
<polygon points="494.35,271.5 497.32,275.3 494.35,279.1 491.38,275.3" fill="none" stroke="#ff0000" stroke-width="0.85"/>
<circle cx="488.55" cy="275.3" r="2.99" fill="none" stroke="#000000" stroke-width="0.85"/>
<polygon points="488.14,273.45 488.96,275.58 491.24,275.7 489.47,277.14 490.06,279.34 488.14,278.1 486.23,279.34 486.82,277.14 485.05,275.7 487.32,275.58" fill="none" stroke="#0072BD" stroke-width="0.85"/>
<polygon points="490.32,263.55 491.27,265.06 493.05,265.12 492.21,266.7 493.05,268.27 491.27,268.34 490.32,269.85 489.38,268.34 487.6,268.27 488.43,266.7 487.6,265.12 489.38,265.06" fill="none" stroke="#D95319" stroke-width="0.85"/>
<path d="M174.89 387.5H181.89M178.39 384V391M175.87 384.98L180.91 390.02M175.87 390.02L180.91 384.98" fill="none" stroke="#ff0000" stroke-width="0.85"/>
<circle cx="175.05" cy="384.3" r="2.99" fill="none" stroke="#ff0000" stroke-width="0.85"/>
<path d="M173.63 391H180.43M177.03 387.6V394.4" fill="none" stroke="#0072BD" stroke-width="0.85"/>
<path d="M174.36 390.48L179.01 395.12M174.36 395.12L179.01 390.48" fill="none" stroke="#D95319" stroke-width="0.85"/>
<rect x="173.96" y="384.18" width="4.64" height="4.64" fill="none" stroke="#EDB120" stroke-width="0.85"/>
<polygon points="173.56,384.7 176.86,390.48 170.26,390.48" fill="none" stroke="#7E2F8E" stroke-width="0.85"/>
<polygon points="173.9,395.3 177.2,389.52 170.6,389.52" fill="none" stroke="#77AC30" stroke-width="0.85"/>
<polygon points="179.1,393 173.33,396.3 173.33,389.7" fill="none" stroke="#4DBEEE" stroke-width="0.85"/>
<polygon points="168.9,389 174.67,392.3 174.67,385.7" fill="none" stroke="#A2142F" stroke-width="0.85"/>
<path d="M169.92 387.1H176.92M173.42 383.6V390.6M170.9 384.58L175.94 389.62M170.9 389.62L175.94 384.58" fill="none" stroke="#000000" stroke-width="0.85"/>
<polygon points="179.34,382.4 182.31,386.2 179.34,390 176.37,386.2" fill="none" stroke="#ff0000" stroke-width="0.85"/>
<circle cx="173.56" cy="390" r="2.99" fill="none" stroke="#000000" stroke-width="0.85"/>
<polygon points="173.15,388.45 173.97,390.58 176.24,390.7 174.48,392.14 175.06,394.34 173.15,393.1 171.24,394.34 171.82,392.14 170.05,390.7 172.33,390.58" fill="none" stroke="#0072BD" stroke-width="0.85"/>
<polygon points="175.33,382.85 176.27,384.36 178.06,384.43 177.22,386 178.06,387.57 176.27,387.64 175.33,389.15 174.38,387.64 172.6,387.57 173.44,386 172.6,384.43 174.38,384.36" fill="none" stroke="#D95319" stroke-width="0.85"/>
<path d="M191.97 349.1H198.97M195.47 345.6V352.6M192.95 346.58L197.99 351.62M192.95 351.62L197.99 346.58" fill="none" stroke="#ff0000" stroke-width="0.85"/>
<circle cx="192.13" cy="343.2" r="2.99" fill="none" stroke="#ff0000" stroke-width="0.85"/>
<path d="M190.71 361H197.51M194.11 357.6V364.4" fill="none" stroke="#0072BD" stroke-width="0.85"/>
<path d="M191.44 342.68L196.09 347.32M191.44 347.32L196.09 342.68" fill="none" stroke="#D95319" stroke-width="0.85"/>
<rect x="191.04" y="334.48" width="4.64" height="4.64" fill="none" stroke="#EDB120" stroke-width="0.85"/>
<polygon points="190.64,329.1 193.94,334.88 187.34,334.88" fill="none" stroke="#7E2F8E" stroke-width="0.85"/>
<polygon points="190.98,366.2 194.28,360.42 187.68,360.42" fill="none" stroke="#77AC30" stroke-width="0.85"/>
<polygon points="196.18,361 190.41,364.3 190.41,357.7" fill="none" stroke="#4DBEEE" stroke-width="0.85"/>
<polygon points="185.98,354.6 191.75,357.9 191.75,351.3" fill="none" stroke="#A2142F" stroke-width="0.85"/>
<path d="M187 347.7H194M190.5 344.2V351.2M187.98 345.18L193.02 350.22M187.98 350.22L193.02 345.18" fill="none" stroke="#000000" stroke-width="0.85"/>
<polygon points="196.42,346.81 199.39,350.6 196.42,354.4 193.45,350.6" fill="none" stroke="#ff0000" stroke-width="0.85"/>
<circle cx="190.64" cy="349.6" r="2.99" fill="none" stroke="#000000" stroke-width="0.85"/>
<polygon points="190.23,357.56 191.05,359.68 193.32,359.8 191.56,361.24 192.14,363.44 190.23,362.2 188.32,363.44 188.9,361.24 187.13,359.8 189.41,359.68" fill="none" stroke="#0072BD" stroke-width="0.85"/>
<polygon points="192.41,336.65 193.35,338.16 195.14,338.23 194.3,339.8 195.14,341.38 193.35,341.44 192.41,342.95 191.46,341.44 189.68,341.38 190.52,339.8 189.68,338.23 191.46,338.16" fill="none" stroke="#D95319" stroke-width="0.85"/>
<path d="M209.05 368.3H216.05M212.55 364.8V371.8M210.03 365.78L215.07 370.82M210.03 370.82L215.07 365.78" fill="none" stroke="#ff0000" stroke-width="0.85"/>
<circle cx="209.21" cy="361.5" r="2.99" fill="none" stroke="#ff0000" stroke-width="0.85"/>
<path d="M207.79 372H214.59M211.19 368.6V375.4" fill="none" stroke="#0072BD" stroke-width="0.85"/>
<path d="M208.52 367.98L213.17 372.62M208.52 372.62L213.17 367.98" fill="none" stroke="#D95319" stroke-width="0.85"/>
<rect x="208.12" y="358.18" width="4.64" height="4.64" fill="none" stroke="#EDB120" stroke-width="0.85"/>
<polygon points="207.72,354.2 211.02,359.98 204.42,359.98" fill="none" stroke="#7E2F8E" stroke-width="0.85"/>
<polygon points="208.06,379.5 211.36,373.72 204.76,373.72" fill="none" stroke="#77AC30" stroke-width="0.85"/>
<polygon points="213.26,381.2 207.49,384.5 207.49,377.9" fill="none" stroke="#4DBEEE" stroke-width="0.85"/>
<polygon points="203.06,366 208.83,369.3 208.83,362.7" fill="none" stroke="#A2142F" stroke-width="0.85"/>
<path d="M204.08 369H211.08M207.58 365.5V372.5M205.06 366.48L210.1 371.52M205.06 371.52L210.1 366.48" fill="none" stroke="#000000" stroke-width="0.85"/>
<polygon points="213.5,363.6 216.47,367.4 213.5,371.19 210.53,367.4" fill="none" stroke="#ff0000" stroke-width="0.85"/>
<circle cx="207.72" cy="367.4" r="2.99" fill="none" stroke="#000000" stroke-width="0.85"/>
<polygon points="207.31,369.36 208.13,371.48 210.4,371.6 208.64,373.04 209.22,375.24 207.31,374 205.4,375.24 205.98,373.04 204.21,371.6 206.49,371.48" fill="none" stroke="#0072BD" stroke-width="0.85"/>
<polygon points="209.49,366.85 210.43,368.36 212.22,368.43 211.38,370 212.22,371.57 210.43,371.64 209.49,373.15 208.54,371.64 206.76,371.57 207.6,370 206.76,368.43 208.54,368.36" fill="none" stroke="#D95319" stroke-width="0.85"/>
<path d="M226.13 342.2H233.13M229.63 338.7V345.7M227.11 339.68L232.15 344.72M227.11 344.72L232.15 339.68" fill="none" stroke="#ff0000" stroke-width="0.85"/>
<circle cx="226.29" cy="346" r="2.99" fill="none" stroke="#ff0000" stroke-width="0.85"/>
<path d="M224.87 357H231.67M228.27 353.6V360.4" fill="none" stroke="#0072BD" stroke-width="0.85"/>
<path d="M225.6 342.68L230.25 347.32M225.6 347.32L230.25 342.68" fill="none" stroke="#D95319" stroke-width="0.85"/>
<rect x="225.2" y="336.48" width="4.64" height="4.64" fill="none" stroke="#EDB120" stroke-width="0.85"/>
<polygon points="224.8,339.9 228.1,345.68 221.5,345.68" fill="none" stroke="#7E2F8E" stroke-width="0.85"/>
<polygon points="225.14,365.7 228.44,359.92 221.84,359.92" fill="none" stroke="#77AC30" stroke-width="0.85"/>
<polygon points="230.34,360 224.57,363.3 224.57,356.7" fill="none" stroke="#4DBEEE" stroke-width="0.85"/>
<polygon points="220.14,354.1 225.91,357.4 225.91,350.8" fill="none" stroke="#A2142F" stroke-width="0.85"/>
<path d="M221.16 348H228.16M224.66 344.5V351.5M222.14 345.48L227.18 350.52M222.14 350.52L227.18 345.48" fill="none" stroke="#000000" stroke-width="0.85"/>
<polygon points="230.58,343.4 233.55,347.2 230.58,351 227.61,347.2" fill="none" stroke="#ff0000" stroke-width="0.85"/>
<circle cx="224.8" cy="350.1" r="2.99" fill="none" stroke="#000000" stroke-width="0.85"/>
<polygon points="224.39,354.56 225.21,356.68 227.48,356.8 225.72,358.24 226.3,360.44 224.39,359.2 222.48,360.44 223.06,358.24 221.29,356.8 223.57,356.68" fill="none" stroke="#0072BD" stroke-width="0.85"/>
<polygon points="226.57,339.35 227.51,340.86 229.3,340.93 228.46,342.5 229.3,344.07 227.51,344.14 226.57,345.65 225.62,344.14 223.84,344.07 224.68,342.5 223.84,340.93 225.62,340.86" fill="none" stroke="#D95319" stroke-width="0.85"/>
<path d="M306.26 393H313.26M309.76 389.5V396.5M307.24 390.48L312.28 395.52M307.24 395.52L312.28 390.48" fill="none" stroke="#ff0000" stroke-width="0.85"/>
<circle cx="306.41" cy="387.6" r="2.99" fill="none" stroke="#ff0000" stroke-width="0.85"/>
<path d="M304.99 393.5H311.79M308.39 390.1V396.9" fill="none" stroke="#0072BD" stroke-width="0.85"/>
<path d="M305.72 390.68L310.37 395.32M305.72 395.32L310.37 390.68" fill="none" stroke="#D95319" stroke-width="0.85"/>
<rect x="305.32" y="389.68" width="4.64" height="4.64" fill="none" stroke="#EDB120" stroke-width="0.85"/>
<polygon points="304.91,389.2 308.21,394.98 301.61,394.98" fill="none" stroke="#7E2F8E" stroke-width="0.85"/>
<polygon points="305.25,397.3 308.55,391.52 301.95,391.52" fill="none" stroke="#77AC30" stroke-width="0.85"/>
<polygon points="310.46,394 304.69,397.3 304.69,390.7" fill="none" stroke="#4DBEEE" stroke-width="0.85"/>
<polygon points="300.24,393 306.02,396.3 306.02,389.7" fill="none" stroke="#A2142F" stroke-width="0.85"/>
<path d="M301.27 392H308.27M304.77 388.5V395.5M302.25 389.48L307.29 394.52M302.25 394.52L307.29 389.48" fill="none" stroke="#000000" stroke-width="0.85"/>
<polygon points="310.71,388.7 313.68,392.5 310.71,396.3 307.74,392.5" fill="none" stroke="#ff0000" stroke-width="0.85"/>
<circle cx="304.91" cy="393" r="2.99" fill="none" stroke="#000000" stroke-width="0.85"/>
<polygon points="304.5,390.56 305.32,392.68 307.59,392.8 305.82,394.24 306.41,396.44 304.5,395.2 302.58,396.44 303.17,394.24 301.4,392.8 303.68,392.68" fill="none" stroke="#0072BD" stroke-width="0.85"/>
<polygon points="306.68,389.35 307.63,390.86 309.41,390.93 308.57,392.5 309.41,394.07 307.63,394.14 306.68,395.65 305.74,394.14 303.96,394.07 304.79,392.5 303.96,390.93 305.74,390.86" fill="none" stroke="#D95319" stroke-width="0.85"/>
<path d="M323.4 346.2H330.4M326.9 342.7V349.7M324.38 343.68L329.42 348.72M324.38 348.72L329.42 343.68" fill="none" stroke="#ff0000" stroke-width="0.85"/>
<circle cx="323.55" cy="355" r="2.99" fill="none" stroke="#ff0000" stroke-width="0.85"/>
<path d="M322.13 351.1H328.93M325.53 347.7V354.5" fill="none" stroke="#0072BD" stroke-width="0.85"/>
<path d="M322.86 345.18L327.51 349.82M322.86 349.82L327.51 345.18" fill="none" stroke="#D95319" stroke-width="0.85"/>
<rect x="322.46" y="341.88" width="4.64" height="4.64" fill="none" stroke="#EDB120" stroke-width="0.85"/>
<polygon points="322.05,350.3 325.35,356.08 318.75,356.08" fill="none" stroke="#7E2F8E" stroke-width="0.85"/>
<polygon points="322.39,375.6 325.69,369.82 319.09,369.82" fill="none" stroke="#77AC30" stroke-width="0.85"/>
<polygon points="327.6,376.7 321.83,380 321.83,373.4" fill="none" stroke="#4DBEEE" stroke-width="0.85"/>
<polygon points="317.38,369.8 323.16,373.1 323.16,366.5" fill="none" stroke="#A2142F" stroke-width="0.85"/>
<path d="M318.41 338.3H325.41M321.91 334.8V341.8M319.39 335.78L324.43 340.82M319.39 340.82L324.43 335.78" fill="none" stroke="#000000" stroke-width="0.85"/>
<polygon points="327.85,359.1 330.82,362.9 327.85,366.69 324.88,362.9" fill="none" stroke="#ff0000" stroke-width="0.85"/>
<circle cx="322.05" cy="362.9" r="2.99" fill="none" stroke="#000000" stroke-width="0.85"/>
<polygon points="321.64,366.36 322.46,368.48 324.73,368.6 322.96,370.04 323.55,372.24 321.64,371 319.72,372.24 320.31,370.04 318.54,368.6 320.82,368.48" fill="none" stroke="#0072BD" stroke-width="0.85"/>
<polygon points="323.82,344.05 324.77,345.56 326.55,345.62 325.71,347.2 326.55,348.77 324.77,348.84 323.82,350.35 322.88,348.84 321.1,348.77 321.93,347.2 321.1,345.62 322.88,345.56" fill="none" stroke="#D95319" stroke-width="0.85"/>
<path d="M340.54 366.4H347.54M344.04 362.9V369.9M341.52 363.88L346.56 368.92M341.52 368.92L346.56 363.88" fill="none" stroke="#ff0000" stroke-width="0.85"/>
<circle cx="340.69" cy="366.4" r="2.99" fill="none" stroke="#ff0000" stroke-width="0.85"/>
<path d="M339.27 375H346.07M342.67 371.6V378.4" fill="none" stroke="#0072BD" stroke-width="0.85"/>
<path d="M340 377.38L344.65 382.02M340 382.02L344.65 377.38" fill="none" stroke="#D95319" stroke-width="0.85"/>
<rect x="339.6" y="367.18" width="4.64" height="4.64" fill="none" stroke="#EDB120" stroke-width="0.85"/>
<polygon points="339.19,367 342.49,372.78 335.89,372.78" fill="none" stroke="#7E2F8E" stroke-width="0.85"/>
<polygon points="339.53,379.3 342.83,373.52 336.23,373.52" fill="none" stroke="#77AC30" stroke-width="0.85"/>
<polygon points="344.74,376.2 338.97,379.5 338.97,372.9" fill="none" stroke="#4DBEEE" stroke-width="0.85"/>
<polygon points="334.52,379 340.3,382.3 340.3,375.7" fill="none" stroke="#A2142F" stroke-width="0.85"/>
<path d="M335.55 380H342.55M339.05 376.5V383.5M336.53 377.48L341.57 382.52M336.53 382.52L341.57 377.48" fill="none" stroke="#000000" stroke-width="0.85"/>
<polygon points="344.99,364.5 347.96,368.3 344.99,372.1 342.02,368.3" fill="none" stroke="#ff0000" stroke-width="0.85"/>
<circle cx="339.19" cy="381.7" r="2.99" fill="none" stroke="#000000" stroke-width="0.85"/>
<polygon points="338.78,371.36 339.6,373.48 341.87,373.6 340.1,375.04 340.69,377.24 338.78,376 336.86,377.24 337.45,375.04 335.68,373.6 337.96,373.48" fill="none" stroke="#0072BD" stroke-width="0.85"/>
<polygon points="340.96,373.85 341.91,375.36 343.69,375.43 342.85,377 343.69,378.57 341.91,378.64 340.96,380.15 340.02,378.64 338.24,378.57 339.07,377 338.24,375.43 340.02,375.36" fill="none" stroke="#D95319" stroke-width="0.85"/>
<path d="M357.68 348.6H364.68M361.18 345.1V352.1M358.66 346.08L363.7 351.12M358.66 351.12L363.7 346.08" fill="none" stroke="#ff0000" stroke-width="0.85"/>
<circle cx="357.83" cy="359.5" r="2.99" fill="none" stroke="#ff0000" stroke-width="0.85"/>
<path d="M356.41 353.6H363.21M359.81 350.2V357" fill="none" stroke="#0072BD" stroke-width="0.85"/>
<path d="M357.14 365.98L361.79 370.62M357.14 370.62L361.79 365.98" fill="none" stroke="#D95319" stroke-width="0.85"/>
<rect x="356.74" y="345.88" width="4.64" height="4.64" fill="none" stroke="#EDB120" stroke-width="0.85"/>
<polygon points="356.33,354.7 359.63,360.48 353.03,360.48" fill="none" stroke="#7E2F8E" stroke-width="0.85"/>
<polygon points="356.67,380.5 359.97,374.72 353.37,374.72" fill="none" stroke="#77AC30" stroke-width="0.85"/>
<polygon points="361.88,379.7 356.11,383 356.11,376.4" fill="none" stroke="#4DBEEE" stroke-width="0.85"/>
<polygon points="351.66,371 357.44,374.3 357.44,367.7" fill="none" stroke="#A2142F" stroke-width="0.85"/>
<path d="M352.69 340.3H359.69M356.19 336.8V343.8M353.67 337.78L358.71 342.82M353.67 342.82L358.71 337.78" fill="none" stroke="#000000" stroke-width="0.85"/>
<polygon points="362.13,366 365.1,369.8 362.13,373.6 359.16,369.8" fill="none" stroke="#ff0000" stroke-width="0.85"/>
<circle cx="356.33" cy="362" r="2.99" fill="none" stroke="#000000" stroke-width="0.85"/>
<polygon points="355.92,369.86 356.74,371.98 359.01,372.1 357.24,373.54 357.83,375.74 355.92,374.5 354,375.74 354.59,373.54 352.82,372.1 355.1,371.98" fill="none" stroke="#0072BD" stroke-width="0.85"/>
<polygon points="358.1,350.45 359.05,351.96 360.83,352.03 359.99,353.6 360.83,355.18 359.05,355.24 358.1,356.75 357.16,355.24 355.38,355.18 356.21,353.6 355.38,352.03 357.16,351.96" fill="none" stroke="#D95319" stroke-width="0.85"/>
<path d="M438.81 394.5H445.81M442.31 391V398M439.79 391.98L444.83 397.02M439.79 397.02L444.83 391.98" fill="none" stroke="#ff0000" stroke-width="0.85"/>
<circle cx="438.97" cy="394.3" r="2.99" fill="none" stroke="#ff0000" stroke-width="0.85"/>
<path d="M437.55 394H444.35M440.95 390.6V397.4" fill="none" stroke="#0072BD" stroke-width="0.85"/>
<path d="M438.28 391.88L442.93 396.52M438.28 396.52L442.93 391.88" fill="none" stroke="#D95319" stroke-width="0.85"/>
<rect x="437.88" y="391.68" width="4.64" height="4.64" fill="none" stroke="#EDB120" stroke-width="0.85"/>
<polygon points="437.47,390.5 440.77,396.28 434.17,396.28" fill="none" stroke="#7E2F8E" stroke-width="0.85"/>
<polygon points="437.82,397.5 441.12,391.72 434.52,391.72" fill="none" stroke="#77AC30" stroke-width="0.85"/>
<polygon points="443.02,394.3 437.25,397.6 437.25,391" fill="none" stroke="#4DBEEE" stroke-width="0.85"/>
<polygon points="432.81,393.8 438.59,397.1 438.59,390.5" fill="none" stroke="#A2142F" stroke-width="0.85"/>
<path d="M433.84 394H440.84M437.34 390.5V397.5M434.82 391.48L439.86 396.52M434.82 396.52L439.86 391.48" fill="none" stroke="#000000" stroke-width="0.85"/>
<polygon points="443.27,390.7 446.24,394.5 443.27,398.3 440.3,394.5" fill="none" stroke="#ff0000" stroke-width="0.85"/>
<circle cx="437.47" cy="394" r="2.99" fill="none" stroke="#000000" stroke-width="0.85"/>
<polygon points="437.07,391.06 437.89,393.18 440.16,393.3 438.39,394.74 438.98,396.94 437.07,395.7 435.15,396.94 435.74,394.74 433.97,393.3 436.25,393.18" fill="none" stroke="#0072BD" stroke-width="0.85"/>
<polygon points="439.25,390.85 440.19,392.36 441.97,392.43 441.14,394 441.97,395.57 440.19,395.64 439.25,397.15 438.3,395.64 436.52,395.57 437.36,394 436.52,392.43 438.3,392.36" fill="none" stroke="#D95319" stroke-width="0.85"/>
<path d="M455.91 355.6H462.91M459.41 352.1V359.1M456.89 353.08L461.93 358.12M456.89 358.12L461.93 353.08" fill="none" stroke="#ff0000" stroke-width="0.85"/>
<circle cx="456.07" cy="374.6" r="2.99" fill="none" stroke="#ff0000" stroke-width="0.85"/>
<path d="M454.65 370.4H461.45M458.05 367V373.8" fill="none" stroke="#0072BD" stroke-width="0.85"/>
<path d="M455.38 360.68L460.03 365.32M455.38 365.32L460.03 360.68" fill="none" stroke="#D95319" stroke-width="0.85"/>
<rect x="454.98" y="357.68" width="4.64" height="4.64" fill="none" stroke="#EDB120" stroke-width="0.85"/>
<polygon points="454.57,349.1 457.87,354.88 451.27,354.88" fill="none" stroke="#7E2F8E" stroke-width="0.85"/>
<polygon points="454.92,380 458.22,374.22 451.62,374.22" fill="none" stroke="#77AC30" stroke-width="0.85"/>
<polygon points="460.12,393.6 454.35,396.9 454.35,390.3" fill="none" stroke="#4DBEEE" stroke-width="0.85"/>
<polygon points="449.91,366.7 455.69,370 455.69,363.4" fill="none" stroke="#A2142F" stroke-width="0.85"/>
<path d="M450.94 370.4H457.94M454.44 366.9V373.9M451.92 367.88L456.96 372.92M451.92 372.92L456.96 367.88" fill="none" stroke="#000000" stroke-width="0.85"/>
<polygon points="460.37,360.81 463.34,364.6 460.37,368.4 457.4,364.6" fill="none" stroke="#ff0000" stroke-width="0.85"/>
<circle cx="454.57" cy="356.1" r="2.99" fill="none" stroke="#000000" stroke-width="0.85"/>
<polygon points="454.17,388.56 454.99,390.68 457.26,390.8 455.49,392.24 456.08,394.44 454.17,393.2 452.25,394.44 452.84,392.24 451.07,390.8 453.35,390.68" fill="none" stroke="#0072BD" stroke-width="0.85"/>
<polygon points="456.35,358.25 457.29,359.76 459.07,359.82 458.24,361.4 459.07,362.97 457.29,363.04 456.35,364.55 455.4,363.04 453.62,362.97 454.46,361.4 453.62,359.82 455.4,359.76" fill="none" stroke="#D95319" stroke-width="0.85"/>
<path d="M473.01 348.7H480.01M476.51 345.2V352.2M473.99 346.18L479.03 351.22M473.99 351.22L479.03 346.18" fill="none" stroke="#ff0000" stroke-width="0.85"/>
<circle cx="473.17" cy="355.6" r="2.99" fill="none" stroke="#ff0000" stroke-width="0.85"/>
<path d="M471.75 365.6H478.55M475.15 362.2V369" fill="none" stroke="#0072BD" stroke-width="0.85"/>
<path d="M472.48 378.68L477.13 383.32M472.48 383.32L477.13 378.68" fill="none" stroke="#D95319" stroke-width="0.85"/>
<rect x="472.08" y="365.38" width="4.64" height="4.64" fill="none" stroke="#EDB120" stroke-width="0.85"/>
<polygon points="471.67,361.3 474.97,367.08 468.37,367.08" fill="none" stroke="#7E2F8E" stroke-width="0.85"/>
<polygon points="472.02,376.3 475.32,370.52 468.72,370.52" fill="none" stroke="#77AC30" stroke-width="0.85"/>
<polygon points="477.22,357 471.45,360.3 471.45,353.7" fill="none" stroke="#4DBEEE" stroke-width="0.85"/>
<polygon points="467.01,384.6 472.79,387.9 472.79,381.3" fill="none" stroke="#A2142F" stroke-width="0.85"/>
<path d="M468.04 361.9H475.04M471.54 358.4V365.4M469.02 359.38L474.06 364.42M469.02 364.42L474.06 359.38" fill="none" stroke="#000000" stroke-width="0.85"/>
<polygon points="477.47,352.31 480.44,356.1 477.47,359.9 474.5,356.1" fill="none" stroke="#ff0000" stroke-width="0.85"/>
<circle cx="471.67" cy="373.5" r="2.99" fill="none" stroke="#000000" stroke-width="0.85"/>
<polygon points="471.27,341.56 472.09,343.68 474.36,343.8 472.59,345.24 473.18,347.44 471.27,346.2 469.35,347.44 469.94,345.24 468.17,343.8 470.45,343.68" fill="none" stroke="#0072BD" stroke-width="0.85"/>
<polygon points="473.45,377.75 474.39,379.26 476.17,379.32 475.34,380.9 476.17,382.47 474.39,382.54 473.45,384.05 472.5,382.54 470.72,382.47 471.56,380.9 470.72,379.32 472.5,379.26" fill="none" stroke="#D95319" stroke-width="0.85"/>
<path d="M490.11 356.1H497.11M493.61 352.6V359.6M491.09 353.58L496.13 358.62M491.09 358.62L496.13 353.58" fill="none" stroke="#ff0000" stroke-width="0.85"/>
<circle cx="490.27" cy="373" r="2.99" fill="none" stroke="#ff0000" stroke-width="0.85"/>
<path d="M488.85 367.7H495.65M492.25 364.3V371.1" fill="none" stroke="#0072BD" stroke-width="0.85"/>
<path d="M489.58 355.68L494.23 360.32M489.58 360.32L494.23 355.68" fill="none" stroke="#D95319" stroke-width="0.85"/>
<rect x="489.18" y="339.08" width="4.64" height="4.64" fill="none" stroke="#EDB120" stroke-width="0.85"/>
<polygon points="488.77,342.3 492.07,348.08 485.47,348.08" fill="none" stroke="#7E2F8E" stroke-width="0.85"/>
<polygon points="489.12,364.7 492.42,358.92 485.82,358.92" fill="none" stroke="#77AC30" stroke-width="0.85"/>
<polygon points="494.32,366 488.55,369.3 488.55,362.7" fill="none" stroke="#4DBEEE" stroke-width="0.85"/>
<polygon points="484.11,368.8 489.89,372.1 489.89,365.5" fill="none" stroke="#A2142F" stroke-width="0.85"/>
<path d="M485.14 362.5H492.14M488.64 359V366M486.12 359.98L491.16 365.02M486.12 365.02L491.16 359.98" fill="none" stroke="#000000" stroke-width="0.85"/>
<polygon points="494.57,348.6 497.54,352.4 494.57,356.19 491.6,352.4" fill="none" stroke="#ff0000" stroke-width="0.85"/>
<circle cx="488.77" cy="365.1" r="2.99" fill="none" stroke="#000000" stroke-width="0.85"/>
<polygon points="488.37,345.75 489.19,347.88 491.46,348 489.69,349.44 490.28,351.64 488.37,350.4 486.45,351.64 487.04,349.44 485.27,348 487.55,347.88" fill="none" stroke="#0072BD" stroke-width="0.85"/>
<polygon points="490.55,352.95 491.49,354.46 493.27,354.53 492.44,356.1 493.27,357.68 491.49,357.74 490.55,359.25 489.6,357.74 487.82,357.68 488.66,356.1 487.82,354.53 489.6,354.46" fill="none" stroke="#D95319" stroke-width="0.85"/>
<path d="M193.86 506.1H200.86M197.36 502.6V509.6M194.84 503.58L199.88 508.62M194.84 508.62L199.88 503.58" fill="none" stroke="#ff0000" stroke-width="0.85"/>
<circle cx="191.36" cy="508.8" r="3.23" fill="none" stroke="#ff0000" stroke-width="0.85"/>
<path d="M190.76 503H197.76M194.26 499.5V506.5" fill="none" stroke="#0072BD" stroke-width="0.85"/>
<rect x="191.26" y="501.1" width="4.8" height="4.8" fill="none" stroke="#D95319" stroke-width="0.85"/>
<polygon points="189.66,508.4 193.16,514.52 186.16,514.52" fill="none" stroke="#EDB120" stroke-width="0.85"/>
<polygon points="188.66,500.5 192.16,494.38 185.16,494.38" fill="none" stroke="#7E2F8E" stroke-width="0.85"/>
<polygon points="195.86,494 189.73,497.5 189.73,490.5" fill="none" stroke="#77AC30" stroke-width="0.85"/>
<polygon points="183.66,507 189.78,510.5 189.78,503.5" fill="none" stroke="#4DBEEE" stroke-width="0.85"/>
<polygon points="187.86,494.47 188.73,496.73 191.16,496.86 189.27,498.39 189.9,500.73 187.86,499.42 185.82,500.73 186.45,498.39 184.56,496.86 186.99,496.73" fill="none" stroke="#A2142F" stroke-width="0.85"/>
<path d="M185.46 498H192.46M188.96 494.5V501.5M186.44 495.48L191.48 500.52M186.44 500.52L191.48 495.48" fill="none" stroke="#000000" stroke-width="0.85"/>
<polygon points="199.16,496.96 202.4,501.1 199.16,505.24 195.92,501.1" fill="none" stroke="#ff0000" stroke-width="0.85"/>
<circle cx="188.46" cy="503.8" r="3.23" fill="none" stroke="#000000" stroke-width="0.85"/>
<polygon points="192.66,499.7 193.65,501.29 195.52,501.35 194.64,503 195.52,504.65 193.65,504.71 192.66,506.3 191.67,504.71 189.8,504.65 190.68,503 189.8,501.35 191.67,501.29" fill="none" stroke="#D95319" stroke-width="0.85"/>
<polygon points="192.16,488 193.15,489.59 195.02,489.65 194.14,491.3 195.02,492.95 193.15,493.01 192.16,494.6 191.17,493.01 189.3,492.95 190.18,491.3 189.3,489.65 191.17,489.59" fill="none" stroke="#0072BD" stroke-width="0.85"/>
<path d="M225.22 486.7H232.22M228.72 483.2V490.2M226.2 484.18L231.24 489.22M226.2 489.22L231.24 484.18" fill="none" stroke="#ff0000" stroke-width="0.85"/>
<circle cx="222.72" cy="500.7" r="3.23" fill="none" stroke="#ff0000" stroke-width="0.85"/>
<path d="M222.12 497.9H229.12M225.62 494.4V501.4" fill="none" stroke="#0072BD" stroke-width="0.85"/>
<rect x="222.62" y="491.6" width="4.8" height="4.8" fill="none" stroke="#D95319" stroke-width="0.85"/>
<polygon points="221.02,497.2 224.52,503.32 217.52,503.32" fill="none" stroke="#EDB120" stroke-width="0.85"/>
<polygon points="220.02,494.5 223.52,488.38 216.52,488.38" fill="none" stroke="#7E2F8E" stroke-width="0.85"/>
<polygon points="227.22,490 221.09,493.5 221.09,486.5" fill="none" stroke="#77AC30" stroke-width="0.85"/>
<polygon points="215.02,497.9 221.14,501.4 221.14,494.4" fill="none" stroke="#4DBEEE" stroke-width="0.85"/>
<polygon points="219.22,483.06 220.09,485.33 222.52,485.46 220.63,486.99 221.26,489.33 219.22,488.01 217.18,489.33 217.81,486.99 215.92,485.46 218.35,485.33" fill="none" stroke="#A2142F" stroke-width="0.85"/>
<path d="M216.82 491H223.82M220.32 487.5V494.5M217.8 488.48L222.84 493.52M217.8 493.52L222.84 488.48" fill="none" stroke="#000000" stroke-width="0.85"/>
<polygon points="230.52,492.66 233.76,496.8 230.52,500.94 227.28,496.8" fill="none" stroke="#ff0000" stroke-width="0.85"/>
<circle cx="219.82" cy="492.9" r="3.23" fill="none" stroke="#000000" stroke-width="0.85"/>
<polygon points="224.02,489.7 225.01,491.29 226.88,491.35 226,493 226.88,494.65 225.01,494.71 224.02,496.3 223.03,494.71 221.16,494.65 222.04,493 221.16,491.35 223.03,491.29" fill="none" stroke="#D95319" stroke-width="0.85"/>
<polygon points="223.52,483.4 224.51,484.99 226.38,485.05 225.5,486.7 226.38,488.35 224.51,488.41 223.52,490 222.53,488.41 220.66,488.35 221.54,486.7 220.66,485.05 222.53,484.99" fill="none" stroke="#0072BD" stroke-width="0.85"/>
<path d="M256.58 489.8H263.58M260.08 486.3V493.3M257.56 487.28L262.6 492.32M257.56 492.32L262.6 487.28" fill="none" stroke="#ff0000" stroke-width="0.85"/>
<circle cx="254.08" cy="508.8" r="3.23" fill="none" stroke="#ff0000" stroke-width="0.85"/>
<path d="M253.48 497H260.48M256.98 493.5V500.5" fill="none" stroke="#0072BD" stroke-width="0.85"/>
<rect x="253.98" y="492.6" width="4.8" height="4.8" fill="none" stroke="#D95319" stroke-width="0.85"/>
<polygon points="252.38,498.6 255.88,504.73 248.88,504.73" fill="none" stroke="#EDB120" stroke-width="0.85"/>
<polygon points="251.38,492.1 254.88,485.98 247.88,485.98" fill="none" stroke="#7E2F8E" stroke-width="0.85"/>
<polygon points="258.58,480.2 252.45,483.7 252.45,476.7" fill="none" stroke="#77AC30" stroke-width="0.85"/>
<polygon points="246.38,492 252.5,495.5 252.5,488.5" fill="none" stroke="#4DBEEE" stroke-width="0.85"/>
<polygon points="250.58,492.87 251.45,495.13 253.88,495.26 251.99,496.79 252.62,499.13 250.58,497.81 248.54,499.13 249.17,496.79 247.28,495.26 249.71,495.13" fill="none" stroke="#A2142F" stroke-width="0.85"/>
<path d="M248.18 490.9H255.18M251.68 487.4V494.4M249.16 488.38L254.2 493.42M249.16 493.42L254.2 488.38" fill="none" stroke="#000000" stroke-width="0.85"/>
<polygon points="261.88,496.86 265.12,501 261.88,505.14 258.64,501" fill="none" stroke="#ff0000" stroke-width="0.85"/>
<circle cx="251.18" cy="497" r="3.23" fill="none" stroke="#000000" stroke-width="0.85"/>
<polygon points="255.38,491.7 256.37,493.29 258.24,493.35 257.36,495 258.24,496.65 256.37,496.71 255.38,498.3 254.39,496.71 252.52,496.65 253.4,495 252.52,493.35 254.39,493.29" fill="none" stroke="#D95319" stroke-width="0.85"/>
<polygon points="254.88,491.7 255.87,493.29 257.74,493.35 256.86,495 257.74,496.65 255.87,496.71 254.88,498.3 253.89,496.71 252.02,496.65 252.9,495 252.02,493.35 253.89,493.29" fill="none" stroke="#0072BD" stroke-width="0.85"/>
<path d="M287.94 476.9H294.94M291.44 473.4V480.4M288.92 474.38L293.96 479.42M288.92 479.42L293.96 474.38" fill="none" stroke="#ff0000" stroke-width="0.85"/>
<circle cx="285.44" cy="497" r="3.23" fill="none" stroke="#ff0000" stroke-width="0.85"/>
<path d="M284.84 487H291.84M288.34 483.5V490.5" fill="none" stroke="#0072BD" stroke-width="0.85"/>
<rect x="285.34" y="484.1" width="4.8" height="4.8" fill="none" stroke="#D95319" stroke-width="0.85"/>
<polygon points="283.74,486.5 287.24,492.62 280.24,492.62" fill="none" stroke="#EDB120" stroke-width="0.85"/>
<polygon points="282.74,482.6 286.24,476.48 279.24,476.48" fill="none" stroke="#7E2F8E" stroke-width="0.85"/>
<polygon points="289.94,462.3 283.81,465.8 283.81,458.8" fill="none" stroke="#77AC30" stroke-width="0.85"/>
<polygon points="277.74,489 283.86,492.5 283.86,485.5" fill="none" stroke="#4DBEEE" stroke-width="0.85"/>
<polygon points="281.94,486.06 282.81,488.33 285.24,488.46 283.35,489.99 283.98,492.33 281.94,491.01 279.9,492.33 280.53,489.99 278.64,488.46 281.07,488.33" fill="none" stroke="#A2142F" stroke-width="0.85"/>
<path d="M279.54 475.2H286.54M283.04 471.7V478.7M280.52 472.68L285.56 477.72M280.52 477.72L285.56 472.68" fill="none" stroke="#000000" stroke-width="0.85"/>
<polygon points="293.24,490.66 296.48,494.8 293.24,498.94 290,494.8" fill="none" stroke="#ff0000" stroke-width="0.85"/>
<circle cx="282.54" cy="488" r="3.23" fill="none" stroke="#000000" stroke-width="0.85"/>
<polygon points="286.74,483.2 287.73,484.79 289.6,484.85 288.72,486.5 289.6,488.15 287.73,488.21 286.74,489.8 285.75,488.21 283.88,488.15 284.76,486.5 283.88,484.85 285.75,484.79" fill="none" stroke="#D95319" stroke-width="0.85"/>
<polygon points="286.24,483.1 287.23,484.69 289.1,484.75 288.22,486.4 289.1,488.05 287.23,488.11 286.24,489.7 285.25,488.11 283.38,488.05 284.26,486.4 283.38,484.75 285.25,484.69" fill="none" stroke="#0072BD" stroke-width="0.85"/>
<path d="M400.26 521.5H407.26M403.76 518V525M401.24 518.98L406.28 524.02M401.24 524.02L406.28 518.98" fill="none" stroke="#ff0000" stroke-width="0.85"/>
<circle cx="397.76" cy="521" r="3.23" fill="none" stroke="#ff0000" stroke-width="0.85"/>
<path d="M397.16 520H404.16M400.66 516.5V523.5" fill="none" stroke="#0072BD" stroke-width="0.85"/>
<rect x="397.66" y="519.6" width="4.8" height="4.8" fill="none" stroke="#D95319" stroke-width="0.85"/>
<polygon points="396.06,518.5 399.56,524.62 392.56,524.62" fill="none" stroke="#EDB120" stroke-width="0.85"/>
<polygon points="395.06,524.5 398.56,518.38 391.56,518.38" fill="none" stroke="#7E2F8E" stroke-width="0.85"/>
<polygon points="402.26,520.5 396.13,524 396.13,517" fill="none" stroke="#77AC30" stroke-width="0.85"/>
<polygon points="390.06,522 396.19,525.5 396.19,518.5" fill="none" stroke="#4DBEEE" stroke-width="0.85"/>
<polygon points="394.26,515.87 395.13,518.13 397.56,518.26 395.67,519.79 396.3,522.13 394.26,520.82 392.22,522.13 392.85,519.79 390.96,518.26 393.39,518.13" fill="none" stroke="#A2142F" stroke-width="0.85"/>
<path d="M391.86 521H398.86M395.36 517.5V524.5M392.84 518.48L397.88 523.52M392.84 523.52L397.88 518.48" fill="none" stroke="#000000" stroke-width="0.85"/>
<polygon points="405.56,516.26 408.8,520.4 405.56,524.54 402.32,520.4" fill="none" stroke="#ff0000" stroke-width="0.85"/>
<circle cx="394.86" cy="521" r="3.23" fill="none" stroke="#000000" stroke-width="0.85"/>
<polygon points="399.06,516.2 400.05,517.79 401.92,517.85 401.04,519.5 401.92,521.15 400.05,521.21 399.06,522.8 398.07,521.21 396.2,521.15 397.08,519.5 396.2,517.85 398.07,517.79" fill="none" stroke="#D95319" stroke-width="0.85"/>
<polygon points="398.56,515.2 399.55,516.79 401.42,516.85 400.54,518.5 401.42,520.15 399.55,520.21 398.56,521.8 397.57,520.21 395.7,520.15 396.58,518.5 395.7,516.85 397.57,516.79" fill="none" stroke="#0072BD" stroke-width="0.85"/>
<path d="M431.52 505H438.52M435.02 501.5V508.5M432.5 502.48L437.54 507.52M432.5 507.52L437.54 502.48" fill="none" stroke="#ff0000" stroke-width="0.85"/>
<circle cx="429.02" cy="502" r="3.23" fill="none" stroke="#ff0000" stroke-width="0.85"/>
<path d="M428.42 503.6H435.42M431.92 500.1V507.1" fill="none" stroke="#0072BD" stroke-width="0.85"/>
<rect x="428.92" y="512.4" width="4.8" height="4.8" fill="none" stroke="#D95319" stroke-width="0.85"/>
<polygon points="427.32,497.8 430.82,503.93 423.82,503.93" fill="none" stroke="#EDB120" stroke-width="0.85"/>
<polygon points="426.32,511 429.82,504.88 422.82,504.88" fill="none" stroke="#7E2F8E" stroke-width="0.85"/>
<polygon points="433.52,509.2 427.39,512.7 427.39,505.7" fill="none" stroke="#77AC30" stroke-width="0.85"/>
<polygon points="421.32,489 427.44,492.5 427.44,485.5" fill="none" stroke="#4DBEEE" stroke-width="0.85"/>
<polygon points="425.52,490.37 426.39,492.63 428.82,492.76 426.93,494.29 427.56,496.63 425.52,495.31 423.48,496.63 424.11,494.29 422.22,492.76 424.65,492.63" fill="none" stroke="#A2142F" stroke-width="0.85"/>
<path d="M423.12 512.5H430.12M426.62 509V516M424.1 509.98L429.14 515.02M424.1 515.02L429.14 509.98" fill="none" stroke="#000000" stroke-width="0.85"/>
<polygon points="436.82,500.56 440.06,504.7 436.82,508.84 433.58,504.7" fill="none" stroke="#ff0000" stroke-width="0.85"/>
<circle cx="426.12" cy="494" r="3.23" fill="none" stroke="#000000" stroke-width="0.85"/>
<polygon points="430.32,499.7 431.31,501.29 433.18,501.35 432.3,503 433.18,504.65 431.31,504.71 430.32,506.3 429.33,504.71 427.46,504.65 428.34,503 427.46,501.35 429.33,501.29" fill="none" stroke="#D95319" stroke-width="0.85"/>
<polygon points="429.82,499.7 430.81,501.29 432.68,501.35 431.8,503 432.68,504.65 430.81,504.71 429.82,506.3 428.83,504.71 426.96,504.65 427.84,503 426.96,501.35 428.83,501.29" fill="none" stroke="#0072BD" stroke-width="0.85"/>
<path d="M462.78 488.7H469.78M466.28 485.2V492.2M463.76 486.18L468.8 491.22M463.76 491.22L468.8 486.18" fill="none" stroke="#ff0000" stroke-width="0.85"/>
<circle cx="460.28" cy="485.7" r="3.23" fill="none" stroke="#ff0000" stroke-width="0.85"/>
<path d="M459.68 495.6H466.68M463.18 492.1V499.1" fill="none" stroke="#0072BD" stroke-width="0.85"/>
<rect x="460.18" y="474.6" width="4.8" height="4.8" fill="none" stroke="#D95319" stroke-width="0.85"/>
<polygon points="458.58,494.5 462.08,500.62 455.08,500.62" fill="none" stroke="#EDB120" stroke-width="0.85"/>
<polygon points="457.58,476.5 461.08,470.38 454.08,470.38" fill="none" stroke="#7E2F8E" stroke-width="0.85"/>
<polygon points="464.78,480.3 458.65,483.8 458.65,476.8" fill="none" stroke="#77AC30" stroke-width="0.85"/>
<polygon points="452.58,489.7 458.7,493.2 458.7,486.2" fill="none" stroke="#4DBEEE" stroke-width="0.85"/>
<polygon points="456.78,468.26 457.65,470.53 460.08,470.66 458.19,472.19 458.82,474.53 456.78,473.21 454.74,474.53 455.37,472.19 453.48,470.66 455.91,470.53" fill="none" stroke="#A2142F" stroke-width="0.85"/>
<path d="M454.38 491.6H461.38M457.88 488.1V495.1M455.36 489.08L460.4 494.12M455.36 494.12L460.4 489.08" fill="none" stroke="#000000" stroke-width="0.85"/>
<polygon points="468.08,488.96 471.32,493.1 468.08,497.24 464.84,493.1" fill="none" stroke="#ff0000" stroke-width="0.85"/>
<circle cx="457.38" cy="472" r="3.23" fill="none" stroke="#000000" stroke-width="0.85"/>
<polygon points="461.58,473.2 462.57,474.79 464.44,474.85 463.56,476.5 464.44,478.15 462.57,478.21 461.58,479.8 460.59,478.21 458.72,478.15 459.6,476.5 458.72,474.85 460.59,474.79" fill="none" stroke="#D95319" stroke-width="0.85"/>
<polygon points="461.08,473 462.07,474.59 463.94,474.65 463.06,476.3 463.94,477.95 462.07,478.01 461.08,479.6 460.09,478.01 458.22,477.95 459.1,476.3 458.22,474.65 460.09,474.59" fill="none" stroke="#0072BD" stroke-width="0.85"/>
<path d="M494.04 497.1H501.04M497.54 493.6V500.6M495.02 494.58L500.06 499.62M495.02 499.62L500.06 494.58" fill="none" stroke="#ff0000" stroke-width="0.85"/>
<circle cx="491.54" cy="478" r="3.23" fill="none" stroke="#ff0000" stroke-width="0.85"/>
<path d="M490.94 495.4H497.94M494.44 491.9V498.9" fill="none" stroke="#0072BD" stroke-width="0.85"/>
<rect x="491.44" y="459.9" width="4.8" height="4.8" fill="none" stroke="#D95319" stroke-width="0.85"/>
<polygon points="489.84,476.5 493.34,482.62 486.34,482.62" fill="none" stroke="#EDB120" stroke-width="0.85"/>
<polygon points="488.84,485.5 492.34,479.38 485.34,479.38" fill="none" stroke="#7E2F8E" stroke-width="0.85"/>
<polygon points="496.04,471.9 489.91,475.4 489.91,468.4" fill="none" stroke="#77AC30" stroke-width="0.85"/>
<polygon points="483.84,497.1 489.96,500.6 489.96,493.6" fill="none" stroke="#4DBEEE" stroke-width="0.85"/>
<polygon points="488.04,476.56 488.91,478.83 491.34,478.96 489.45,480.49 490.08,482.83 488.04,481.51 486,482.83 486.63,480.49 484.74,478.96 487.17,478.83" fill="none" stroke="#A2142F" stroke-width="0.85"/>
<path d="M485.64 492.6H492.64M489.14 489.1V496.1M486.62 490.08L491.66 495.12M486.62 495.12L491.66 490.08" fill="none" stroke="#000000" stroke-width="0.85"/>
<polygon points="499.34,473.86 502.58,478 499.34,482.14 496.1,478" fill="none" stroke="#ff0000" stroke-width="0.85"/>
<circle cx="488.64" cy="484.2" r="3.23" fill="none" stroke="#000000" stroke-width="0.85"/>
<polygon points="492.84,472.7 493.83,474.29 495.7,474.35 494.82,476 495.7,477.65 493.83,477.71 492.84,479.3 491.85,477.71 489.98,477.65 490.86,476 489.98,474.35 491.85,474.29" fill="none" stroke="#D95319" stroke-width="0.85"/>
<polygon points="492.34,471.9 493.33,473.49 495.2,473.55 494.32,475.2 495.2,476.85 493.33,476.91 492.34,478.5 491.35,476.91 489.48,476.85 490.36,475.2 489.48,473.55 491.35,473.49" fill="none" stroke="#0072BD" stroke-width="0.85"/>
<path d="M193.86 618.1H200.86M197.36 614.6V621.6M194.84 615.58L199.88 620.62M194.84 620.62L199.88 615.58" fill="none" stroke="#ff0000" stroke-width="0.85"/>
<circle cx="191.36" cy="616" r="3.23" fill="none" stroke="#ff0000" stroke-width="0.85"/>
<path d="M190.76 615H197.76M194.26 611.5V618.5" fill="none" stroke="#0072BD" stroke-width="0.85"/>
<rect x="191.26" y="610.6" width="4.8" height="4.8" fill="none" stroke="#D95319" stroke-width="0.85"/>
<polygon points="189.66,617.9 193.16,624.02 186.16,624.02" fill="none" stroke="#EDB120" stroke-width="0.85"/>
<polygon points="188.66,613.5 192.16,607.38 185.16,607.38" fill="none" stroke="#7E2F8E" stroke-width="0.85"/>
<polygon points="195.86,612 189.73,615.5 189.73,608.5" fill="none" stroke="#77AC30" stroke-width="0.85"/>
<polygon points="183.66,619.8 189.78,623.3 189.78,616.3" fill="none" stroke="#4DBEEE" stroke-width="0.85"/>
<polygon points="187.86,605.47 188.73,607.73 191.16,607.86 189.27,609.39 189.9,611.73 187.86,610.42 185.82,611.73 186.45,609.39 184.56,607.86 186.99,607.73" fill="none" stroke="#A2142F" stroke-width="0.85"/>
<path d="M185.46 605.7H192.46M188.96 602.2V609.2M186.44 603.18L191.48 608.22M186.44 608.22L191.48 603.18" fill="none" stroke="#000000" stroke-width="0.85"/>
<polygon points="199.16,607.26 202.4,611.4 199.16,615.54 195.92,611.4" fill="none" stroke="#ff0000" stroke-width="0.85"/>
<circle cx="188.46" cy="614.2" r="3.23" fill="none" stroke="#000000" stroke-width="0.85"/>
<polygon points="192.66,609.7 193.65,611.29 195.52,611.35 194.64,613 195.52,614.65 193.65,614.71 192.66,616.3 191.67,614.71 189.8,614.65 190.68,613 189.8,611.35 191.67,611.29" fill="none" stroke="#D95319" stroke-width="0.85"/>
<polygon points="192.16,594.6 193.15,596.19 195.02,596.25 194.14,597.9 195.02,599.55 193.15,599.61 192.16,601.2 191.17,599.61 189.3,599.55 190.18,597.9 189.3,596.25 191.17,596.19" fill="none" stroke="#0072BD" stroke-width="0.85"/>
<path d="M225.22 598.5H232.22M228.72 595V602M226.2 595.98L231.24 601.02M226.2 601.02L231.24 595.98" fill="none" stroke="#ff0000" stroke-width="0.85"/>
<circle cx="222.72" cy="616.4" r="3.23" fill="none" stroke="#ff0000" stroke-width="0.85"/>
<path d="M222.12 606H229.12M225.62 602.5V609.5" fill="none" stroke="#0072BD" stroke-width="0.85"/>
<rect x="222.62" y="603.6" width="4.8" height="4.8" fill="none" stroke="#D95319" stroke-width="0.85"/>
<polygon points="221.02,603.5 224.52,609.62 217.52,609.62" fill="none" stroke="#EDB120" stroke-width="0.85"/>
<polygon points="220.02,606.5 223.52,600.38 216.52,600.38" fill="none" stroke="#7E2F8E" stroke-width="0.85"/>
<polygon points="227.22,592 221.09,595.5 221.09,588.5" fill="none" stroke="#77AC30" stroke-width="0.85"/>
<polygon points="215.02,607.4 221.14,610.9 221.14,603.9" fill="none" stroke="#4DBEEE" stroke-width="0.85"/>
<polygon points="219.22,595.37 220.09,597.63 222.52,597.76 220.63,599.29 221.26,601.63 219.22,600.32 217.18,601.63 217.81,599.29 215.92,597.76 218.35,597.63" fill="none" stroke="#A2142F" stroke-width="0.85"/>
<path d="M216.82 604.6H223.82M220.32 601.1V608.1M217.8 602.08L222.84 607.12M217.8 607.12L222.84 602.08" fill="none" stroke="#000000" stroke-width="0.85"/>
<polygon points="230.52,602.76 233.76,606.9 230.52,611.04 227.28,606.9" fill="none" stroke="#ff0000" stroke-width="0.85"/>
<circle cx="219.82" cy="609.1" r="3.23" fill="none" stroke="#000000" stroke-width="0.85"/>
<polygon points="224.02,602.7 225.01,604.29 226.88,604.35 226,606 226.88,607.65 225.01,607.71 224.02,609.3 223.03,607.71 221.16,607.65 222.04,606 221.16,604.35 223.03,604.29" fill="none" stroke="#D95319" stroke-width="0.85"/>
<polygon points="223.52,588.4 224.51,589.99 226.38,590.05 225.5,591.7 226.38,593.35 224.51,593.41 223.52,595 222.53,593.41 220.66,593.35 221.54,591.7 220.66,590.05 222.53,589.99" fill="none" stroke="#0072BD" stroke-width="0.85"/>
<path d="M256.58 605.8H263.58M260.08 602.3V609.3M257.56 603.28L262.6 608.32M257.56 608.32L262.6 603.28" fill="none" stroke="#ff0000" stroke-width="0.85"/>
<circle cx="254.08" cy="619.3" r="3.23" fill="none" stroke="#ff0000" stroke-width="0.85"/>
<path d="M253.48 610.9H260.48M256.98 607.4V614.4" fill="none" stroke="#0072BD" stroke-width="0.85"/>
<rect x="253.98" y="605.6" width="4.8" height="4.8" fill="none" stroke="#D95319" stroke-width="0.85"/>
<polygon points="252.38,605.5 255.88,611.62 248.88,611.62" fill="none" stroke="#EDB120" stroke-width="0.85"/>
<polygon points="251.38,605.5 254.88,599.38 247.88,599.38" fill="none" stroke="#7E2F8E" stroke-width="0.85"/>
<polygon points="258.58,598 252.45,601.5 252.45,594.5" fill="none" stroke="#77AC30" stroke-width="0.85"/>
<polygon points="246.38,607 252.5,610.5 252.5,603.5" fill="none" stroke="#4DBEEE" stroke-width="0.85"/>
<polygon points="250.58,607.76 251.45,610.03 253.88,610.16 251.99,611.69 252.62,614.03 250.58,612.72 248.54,614.03 249.17,611.69 247.28,610.16 249.71,610.03" fill="none" stroke="#A2142F" stroke-width="0.85"/>
<path d="M248.18 603H255.18M251.68 599.5V606.5M249.16 600.48L254.2 605.52M249.16 605.52L254.2 600.48" fill="none" stroke="#000000" stroke-width="0.85"/>
<polygon points="261.88,599.46 265.12,603.6 261.88,607.74 258.64,603.6" fill="none" stroke="#ff0000" stroke-width="0.85"/>
<circle cx="251.18" cy="606" r="3.23" fill="none" stroke="#000000" stroke-width="0.85"/>
<polygon points="255.38,604.7 256.37,606.29 258.24,606.35 257.36,608 258.24,609.65 256.37,609.71 255.38,611.3 254.39,609.71 252.52,609.65 253.4,608 252.52,606.35 254.39,606.29" fill="none" stroke="#D95319" stroke-width="0.85"/>
<polygon points="254.88,604.8 255.87,606.39 257.74,606.45 256.86,608.1 257.74,609.75 255.87,609.81 254.88,611.4 253.89,609.81 252.02,609.75 252.9,608.1 252.02,606.45 253.89,606.39" fill="none" stroke="#0072BD" stroke-width="0.85"/>
<path d="M287.94 576.7H294.94M291.44 573.2V580.2M288.92 574.18L293.96 579.22M288.92 579.22L293.96 574.18" fill="none" stroke="#ff0000" stroke-width="0.85"/>
<circle cx="285.44" cy="613.7" r="3.23" fill="none" stroke="#ff0000" stroke-width="0.85"/>
<path d="M284.84 595.7H291.84M288.34 592.2V599.2" fill="none" stroke="#0072BD" stroke-width="0.85"/>
<rect x="285.34" y="582.1" width="4.8" height="4.8" fill="none" stroke="#D95319" stroke-width="0.85"/>
<polygon points="283.74,586.5 287.24,592.62 280.24,592.62" fill="none" stroke="#EDB120" stroke-width="0.85"/>
<polygon points="282.74,589.5 286.24,583.38 279.24,583.38" fill="none" stroke="#7E2F8E" stroke-width="0.85"/>
<polygon points="289.94,579.5 283.81,583 283.81,576" fill="none" stroke="#77AC30" stroke-width="0.85"/>
<polygon points="277.74,592 283.86,595.5 283.86,588.5" fill="none" stroke="#4DBEEE" stroke-width="0.85"/>
<polygon points="281.94,584.16 282.81,586.43 285.24,586.56 283.35,588.09 283.98,590.43 281.94,589.12 279.9,590.43 280.53,588.09 278.64,586.56 281.07,586.43" fill="none" stroke="#A2142F" stroke-width="0.85"/>
<path d="M279.54 585.7H286.54M283.04 582.2V589.2M280.52 583.18L285.56 588.22M280.52 588.22L285.56 583.18" fill="none" stroke="#000000" stroke-width="0.85"/>
<polygon points="293.24,593.26 296.48,597.4 293.24,601.54 290,597.4" fill="none" stroke="#ff0000" stroke-width="0.85"/>
<circle cx="282.54" cy="595.7" r="3.23" fill="none" stroke="#000000" stroke-width="0.85"/>
<polygon points="286.74,585.7 287.73,587.29 289.6,587.35 288.72,589 289.6,590.65 287.73,590.71 286.74,592.3 285.75,590.71 283.88,590.65 284.76,589 283.88,587.35 285.75,587.29" fill="none" stroke="#D95319" stroke-width="0.85"/>
<polygon points="286.24,586.3 287.23,587.89 289.1,587.95 288.22,589.6 289.1,591.25 287.23,591.31 286.24,592.9 285.25,591.31 283.38,591.25 284.26,589.6 283.38,587.95 285.25,587.89" fill="none" stroke="#0072BD" stroke-width="0.85"/>
<path d="M400.26 633.5H407.26M403.76 630V637M401.24 630.98L406.28 636.02M401.24 636.02L406.28 630.98" fill="none" stroke="#ff0000" stroke-width="0.85"/>
<circle cx="397.76" cy="633" r="3.23" fill="none" stroke="#ff0000" stroke-width="0.85"/>
<path d="M397.16 632.5H404.16M400.66 629V636" fill="none" stroke="#0072BD" stroke-width="0.85"/>
<rect x="397.66" y="631.6" width="4.8" height="4.8" fill="none" stroke="#D95319" stroke-width="0.85"/>
<polygon points="396.06,630.5 399.56,636.62 392.56,636.62" fill="none" stroke="#EDB120" stroke-width="0.85"/>
<polygon points="395.06,636.5 398.56,630.38 391.56,630.38" fill="none" stroke="#7E2F8E" stroke-width="0.85"/>
<polygon points="402.26,632.5 396.13,636 396.13,629" fill="none" stroke="#77AC30" stroke-width="0.85"/>
<polygon points="390.06,634 396.19,637.5 396.19,630.5" fill="none" stroke="#4DBEEE" stroke-width="0.85"/>
<polygon points="394.26,628.87 395.13,631.13 397.56,631.26 395.67,632.79 396.3,635.13 394.26,633.82 392.22,635.13 392.85,632.79 390.96,631.26 393.39,631.13" fill="none" stroke="#A2142F" stroke-width="0.85"/>
<path d="M391.86 633H398.86M395.36 629.5V636.5M392.84 630.48L397.88 635.52M392.84 635.52L397.88 630.48" fill="none" stroke="#000000" stroke-width="0.85"/>
<polygon points="405.56,629.06 408.8,633.2 405.56,637.34 402.32,633.2" fill="none" stroke="#ff0000" stroke-width="0.85"/>
<circle cx="394.86" cy="633" r="3.23" fill="none" stroke="#000000" stroke-width="0.85"/>
<polygon points="399.06,628.7 400.05,630.29 401.92,630.35 401.04,632 401.92,633.65 400.05,633.71 399.06,635.3 398.07,633.71 396.2,633.65 397.08,632 396.2,630.35 398.07,630.29" fill="none" stroke="#D95319" stroke-width="0.85"/>
<polygon points="398.56,628.2 399.55,629.79 401.42,629.85 400.54,631.5 401.42,633.15 399.55,633.21 398.56,634.8 397.57,633.21 395.7,633.15 396.58,631.5 395.7,629.85 397.57,629.79" fill="none" stroke="#0072BD" stroke-width="0.85"/>
<path d="M431.52 624.8H438.52M435.02 621.3V628.3M432.5 622.28L437.54 627.32M432.5 627.32L437.54 622.28" fill="none" stroke="#ff0000" stroke-width="0.85"/>
<circle cx="429.02" cy="621" r="3.23" fill="none" stroke="#ff0000" stroke-width="0.85"/>
<path d="M428.42 622H435.42M431.92 618.5V625.5" fill="none" stroke="#0072BD" stroke-width="0.85"/>
<rect x="428.92" y="628.5" width="4.8" height="4.8" fill="none" stroke="#D95319" stroke-width="0.85"/>
<polygon points="427.32,610.6 430.82,616.73 423.82,616.73" fill="none" stroke="#EDB120" stroke-width="0.85"/>
<polygon points="426.32,630.5 429.82,624.38 422.82,624.38" fill="none" stroke="#7E2F8E" stroke-width="0.85"/>
<polygon points="433.52,621 427.39,624.5 427.39,617.5" fill="none" stroke="#77AC30" stroke-width="0.85"/>
<polygon points="421.32,613 427.44,616.5 427.44,609.5" fill="none" stroke="#4DBEEE" stroke-width="0.85"/>
<polygon points="425.52,615.87 426.39,618.13 428.82,618.26 426.93,619.79 427.56,622.13 425.52,620.82 423.48,622.13 424.11,619.79 422.22,618.26 424.65,618.13" fill="none" stroke="#A2142F" stroke-width="0.85"/>
<path d="M423.12 620H430.12M426.62 616.5V623.5M424.1 617.48L429.14 622.52M424.1 622.52L429.14 617.48" fill="none" stroke="#000000" stroke-width="0.85"/>
<polygon points="436.82,615.56 440.06,619.7 436.82,623.84 433.58,619.7" fill="none" stroke="#ff0000" stroke-width="0.85"/>
<circle cx="426.12" cy="619.2" r="3.23" fill="none" stroke="#000000" stroke-width="0.85"/>
<polygon points="430.32,618.7 431.31,620.29 433.18,620.35 432.3,622 433.18,623.65 431.31,623.71 430.32,625.3 429.33,623.71 427.46,623.65 428.34,622 427.46,620.35 429.33,620.29" fill="none" stroke="#D95319" stroke-width="0.85"/>
<polygon points="429.82,619.2 430.81,620.79 432.68,620.85 431.8,622.5 432.68,624.15 430.81,624.21 429.82,625.8 428.83,624.21 426.96,624.15 427.84,622.5 426.96,620.85 428.83,620.79" fill="none" stroke="#0072BD" stroke-width="0.85"/>
<path d="M462.78 600.9H469.78M466.28 597.4V604.4M463.76 598.38L468.8 603.42M463.76 603.42L468.8 598.38" fill="none" stroke="#ff0000" stroke-width="0.85"/>
<circle cx="460.28" cy="607.7" r="3.23" fill="none" stroke="#ff0000" stroke-width="0.85"/>
<path d="M459.68 611H466.68M463.18 607.5V614.5" fill="none" stroke="#0072BD" stroke-width="0.85"/>
<rect x="460.18" y="582.3" width="4.8" height="4.8" fill="none" stroke="#D95319" stroke-width="0.85"/>
<polygon points="458.58,599.7 462.08,605.83 455.08,605.83" fill="none" stroke="#EDB120" stroke-width="0.85"/>
<polygon points="457.58,594.3 461.08,588.17 454.08,588.17" fill="none" stroke="#7E2F8E" stroke-width="0.85"/>
<polygon points="464.78,585.2 458.65,588.7 458.65,581.7" fill="none" stroke="#77AC30" stroke-width="0.85"/>
<polygon points="452.58,612.7 458.7,616.2 458.7,609.2" fill="none" stroke="#4DBEEE" stroke-width="0.85"/>
<polygon points="456.78,580.47 457.65,582.73 460.08,582.86 458.19,584.39 458.82,586.73 456.78,585.42 454.74,586.73 455.37,584.39 453.48,582.86 455.91,582.73" fill="none" stroke="#A2142F" stroke-width="0.85"/>
<path d="M454.38 601.5H461.38M457.88 598V605M455.36 598.98L460.4 604.02M455.36 604.02L460.4 598.98" fill="none" stroke="#000000" stroke-width="0.85"/>
<polygon points="468.08,604.66 471.32,608.8 468.08,612.94 464.84,608.8" fill="none" stroke="#ff0000" stroke-width="0.85"/>
<circle cx="457.38" cy="595.3" r="3.23" fill="none" stroke="#000000" stroke-width="0.85"/>
<polygon points="461.58,593.7 462.57,595.29 464.44,595.35 463.56,597 464.44,598.65 462.57,598.71 461.58,600.3 460.59,598.71 458.72,598.65 459.6,597 458.72,595.35 460.59,595.29" fill="none" stroke="#D95319" stroke-width="0.85"/>
<polygon points="461.08,593.7 462.07,595.29 463.94,595.35 463.06,597 463.94,598.65 462.07,598.71 461.08,600.3 460.09,598.71 458.22,598.65 459.1,597 458.22,595.35 460.09,595.29" fill="none" stroke="#0072BD" stroke-width="0.85"/>
<path d="M494.04 611H501.04M497.54 607.5V614.5M495.02 608.48L500.06 613.52M495.02 613.52L500.06 608.48" fill="none" stroke="#ff0000" stroke-width="0.85"/>
<circle cx="491.54" cy="604" r="3.23" fill="none" stroke="#ff0000" stroke-width="0.85"/>
<path d="M490.94 613.8H497.94M494.44 610.3V617.3" fill="none" stroke="#0072BD" stroke-width="0.85"/>
<rect x="491.44" y="565.5" width="4.8" height="4.8" fill="none" stroke="#D95319" stroke-width="0.85"/>
<polygon points="489.84,598.5 493.34,604.62 486.34,604.62" fill="none" stroke="#EDB120" stroke-width="0.85"/>
<polygon points="488.84,600.5 492.34,594.38 485.34,594.38" fill="none" stroke="#7E2F8E" stroke-width="0.85"/>
<polygon points="496.04,588.6 489.91,592.1 489.91,585.1" fill="none" stroke="#77AC30" stroke-width="0.85"/>
<polygon points="483.84,616.1 489.96,619.6 489.96,612.6" fill="none" stroke="#4DBEEE" stroke-width="0.85"/>
<polygon points="488.04,590.47 488.91,592.73 491.34,592.86 489.45,594.39 490.08,596.73 488.04,595.42 486,596.73 486.63,594.39 484.74,592.86 487.17,592.73" fill="none" stroke="#A2142F" stroke-width="0.85"/>
<path d="M485.64 607.7H492.64M489.14 604.2V611.2M486.62 605.18L491.66 610.22M486.62 610.22L491.66 605.18" fill="none" stroke="#000000" stroke-width="0.85"/>
<polygon points="499.34,599.56 502.58,603.7 499.34,607.84 496.1,603.7" fill="none" stroke="#ff0000" stroke-width="0.85"/>
<circle cx="488.64" cy="607.7" r="3.23" fill="none" stroke="#000000" stroke-width="0.85"/>
<polygon points="492.84,595.7 493.83,597.29 495.7,597.35 494.82,599 495.7,600.65 493.83,600.71 492.84,602.3 491.85,600.71 489.98,600.65 490.86,599 489.98,597.35 491.85,597.29" fill="none" stroke="#D95319" stroke-width="0.85"/>
<polygon points="492.34,595.4 493.33,596.99 495.2,597.05 494.32,598.7 495.2,600.35 493.33,600.41 492.34,602 491.35,600.41 489.48,600.35 490.36,598.7 489.48,597.05 491.35,596.99" fill="none" stroke="#0072BD" stroke-width="0.85"/>
</svg>
</body></html>
